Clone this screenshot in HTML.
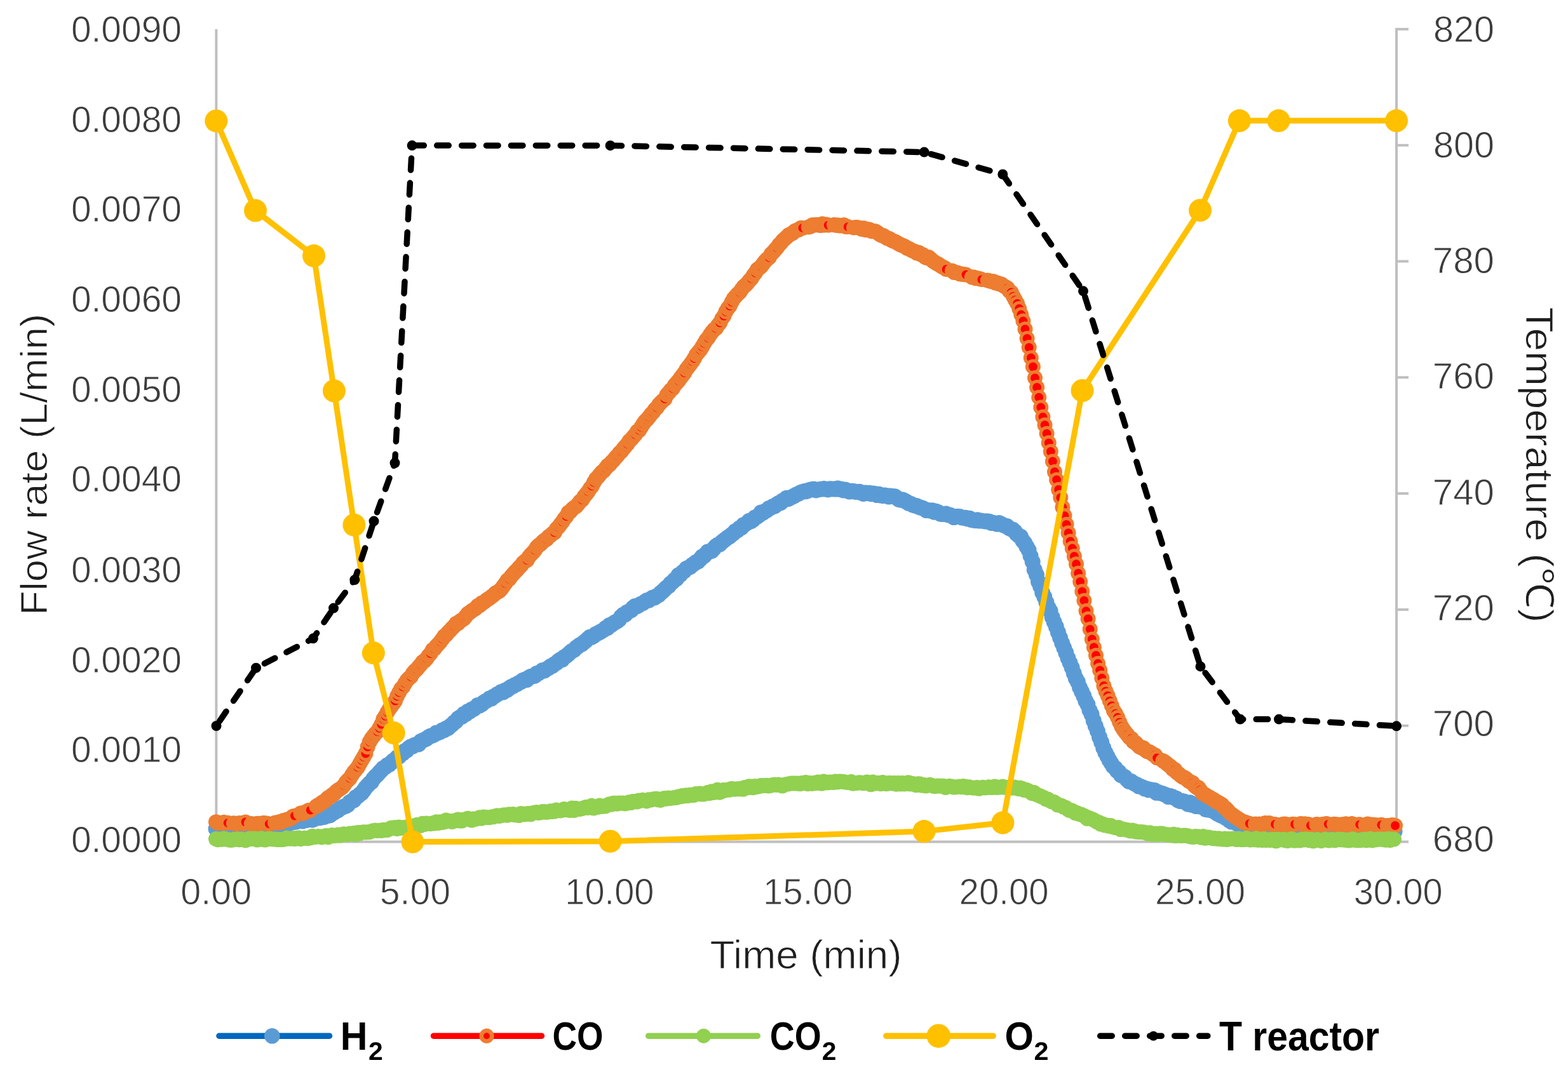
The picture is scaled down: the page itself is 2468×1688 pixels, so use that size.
<!DOCTYPE html><html><head><meta charset="utf-8"><title>Flow rate and temperature vs time</title>
<style>html,body{margin:0;padding:0;background:#fff;}svg{display:block;}text{font-family:"Liberation Sans",Arial,sans-serif;}</style></head><body>
<svg width="2468" height="1688" viewBox="0 0 2468 1688">
<rect width="2468" height="1688" fill="#fff"/>
<g stroke="#BFBFBF" stroke-width="4" fill="none">
<line x1="340.4" y1="46" x2="340.4" y2="1327"/>
<line x1="2198" y1="44" x2="2198" y2="1327"/>
<line x1="338.4" y1="1325.5" x2="2200" y2="1325.5"/>
<line x1="2198" y1="45.9" x2="2217" y2="45.9"/>
<line x1="2198" y1="228.7" x2="2217" y2="228.7"/>
<line x1="2198" y1="411.5" x2="2217" y2="411.5"/>
<line x1="2198" y1="594.3" x2="2217" y2="594.3"/>
<line x1="2198" y1="777.1" x2="2217" y2="777.1"/>
<line x1="2198" y1="959.9" x2="2217" y2="959.9"/>
<line x1="2198" y1="1142.7" x2="2217" y2="1142.7"/>
<line x1="2198" y1="1325.5" x2="2217" y2="1325.5"/>
</g>
<text x="286" y="65.9" font-size="56.7" fill="#3c3c3c" text-anchor="end" textLength="174.1" lengthAdjust="spacingAndGlyphs" stroke="#fff" stroke-width="0.9">0.0090</text>
<text x="286" y="207.6" font-size="56.7" fill="#3c3c3c" text-anchor="end" textLength="174.1" lengthAdjust="spacingAndGlyphs" stroke="#fff" stroke-width="0.9">0.0080</text>
<text x="286" y="349.2" font-size="56.7" fill="#3c3c3c" text-anchor="end" textLength="174.1" lengthAdjust="spacingAndGlyphs" stroke="#fff" stroke-width="0.9">0.0070</text>
<text x="286" y="490.9" font-size="56.7" fill="#3c3c3c" text-anchor="end" textLength="174.1" lengthAdjust="spacingAndGlyphs" stroke="#fff" stroke-width="0.9">0.0060</text>
<text x="286" y="632.6" font-size="56.7" fill="#3c3c3c" text-anchor="end" textLength="174.1" lengthAdjust="spacingAndGlyphs" stroke="#fff" stroke-width="0.9">0.0050</text>
<text x="286" y="774.3" font-size="56.7" fill="#3c3c3c" text-anchor="end" textLength="174.1" lengthAdjust="spacingAndGlyphs" stroke="#fff" stroke-width="0.9">0.0040</text>
<text x="286" y="917.1" font-size="56.7" fill="#3c3c3c" text-anchor="end" textLength="174.1" lengthAdjust="spacingAndGlyphs" stroke="#fff" stroke-width="0.9">0.0030</text>
<text x="286" y="1058.7" font-size="56.7" fill="#3c3c3c" text-anchor="end" textLength="174.1" lengthAdjust="spacingAndGlyphs" stroke="#fff" stroke-width="0.9">0.0020</text>
<text x="286" y="1200.3" font-size="56.7" fill="#3c3c3c" text-anchor="end" textLength="174.1" lengthAdjust="spacingAndGlyphs" stroke="#fff" stroke-width="0.9">0.0010</text>
<text x="286" y="1342" font-size="56.7" fill="#3c3c3c" text-anchor="end" textLength="174.1" lengthAdjust="spacingAndGlyphs" stroke="#fff" stroke-width="0.9">0.0000</text>
<text x="2255.9" y="66" font-size="56.7" fill="#3c3c3c" textLength="96.1" lengthAdjust="spacingAndGlyphs" stroke="#fff" stroke-width="0.9">820</text>
<text x="2255.9" y="247.7" font-size="56.7" fill="#3c3c3c" textLength="96.1" lengthAdjust="spacingAndGlyphs" stroke="#fff" stroke-width="0.9">800</text>
<text x="2254.8" y="430.4" font-size="56.7" fill="#3c3c3c" textLength="97.2" lengthAdjust="spacingAndGlyphs" stroke="#fff" stroke-width="0.9">780</text>
<text x="2254.8" y="612.2" font-size="56.7" fill="#3c3c3c" textLength="97.2" lengthAdjust="spacingAndGlyphs" stroke="#fff" stroke-width="0.9">760</text>
<text x="2254.8" y="795" font-size="56.7" fill="#3c3c3c" textLength="97.2" lengthAdjust="spacingAndGlyphs" stroke="#fff" stroke-width="0.9">740</text>
<text x="2254.8" y="976.7" font-size="56.7" fill="#3c3c3c" textLength="97.2" lengthAdjust="spacingAndGlyphs" stroke="#fff" stroke-width="0.9">720</text>
<text x="2254.8" y="1159.4" font-size="56.7" fill="#3c3c3c" textLength="97.2" lengthAdjust="spacingAndGlyphs" stroke="#fff" stroke-width="0.9">700</text>
<text x="2254.8" y="1341.1" font-size="56.7" fill="#3c3c3c" textLength="97.2" lengthAdjust="spacingAndGlyphs" stroke="#fff" stroke-width="0.9">680</text>
<text x="340.3" y="1423.6" font-size="56.5" fill="#3c3c3c" text-anchor="middle" textLength="112.1" lengthAdjust="spacingAndGlyphs" stroke="#fff" stroke-width="0.9">0.00</text>
<text x="653.4" y="1423.6" font-size="56.5" fill="#3c3c3c" text-anchor="middle" textLength="111.1" lengthAdjust="spacingAndGlyphs" stroke="#fff" stroke-width="0.9">5.00</text>
<text x="959.4" y="1423.6" font-size="56.5" fill="#3c3c3c" text-anchor="middle" textLength="140.1" lengthAdjust="spacingAndGlyphs" stroke="#fff" stroke-width="0.9">10.00</text>
<text x="1271.5" y="1423.6" font-size="56.5" fill="#3c3c3c" text-anchor="middle" textLength="141.2" lengthAdjust="spacingAndGlyphs" stroke="#fff" stroke-width="0.9">15.00</text>
<text x="1580.1" y="1423.6" font-size="56.5" fill="#3c3c3c" text-anchor="middle" textLength="141.1" lengthAdjust="spacingAndGlyphs" stroke="#fff" stroke-width="0.9">20.00</text>
<text x="1889.1" y="1423.6" font-size="56.5" fill="#3c3c3c" text-anchor="middle" textLength="142.2" lengthAdjust="spacingAndGlyphs" stroke="#fff" stroke-width="0.9">25.00</text>
<text x="2200.7" y="1423.6" font-size="56.5" fill="#3c3c3c" text-anchor="middle" textLength="140.1" lengthAdjust="spacingAndGlyphs" stroke="#fff" stroke-width="0.9">30.00</text>
<text x="1268.5" y="1524.5" font-size="63.4" fill="#1e1e1e" text-anchor="middle" textLength="302.1" lengthAdjust="spacingAndGlyphs" stroke="#fff" stroke-width="0.9">Time (min)</text>
<text transform="translate(73.5,731.5) rotate(-90)" font-size="60" fill="#1e1e1e" text-anchor="middle" textLength="475.1" lengthAdjust="spacingAndGlyphs" stroke="#fff" stroke-width="0.9">Flow rate (L/min)</text>
<text transform="translate(2401.6,732) rotate(90)" font-size="61.3" fill="#1e1e1e" text-anchor="middle" textLength="497" lengthAdjust="spacingAndGlyphs" font-family="Liberation Sans, Noto Sans CJK JP, sans-serif" stroke="#fff" stroke-width="0.9">Temperature (℃)</text>
<polyline points="340,1305 343.1,1305.2 346.2,1304.8 349.3,1304.3 352.4,1304.6 355.5,1304.2 358.6,1305 361.7,1306.1 364.8,1304.6 367.9,1304.5 371,1305.4 374.1,1305.3 377.2,1305.1 380.3,1304.3 383.4,1305 386.5,1305.6 389.5,1303.9 392.6,1304.6 395.7,1303.5 398.8,1304 401.9,1303.5 405,1304.6 408.1,1303.6 411.2,1304.5 414.3,1303.9 417.4,1303.2 420.5,1300.8 423.6,1301.7 426.7,1301.5 429.8,1301 432.9,1299.1 436,1299.3 439.1,1298.4 442.2,1298 445.3,1298.9 448.4,1296.8 451.5,1296.8 454.6,1296.9 457.7,1295.1 460.8,1294.8 463.9,1294.3 467,1293.6 470.1,1292 473.2,1292.4 476.3,1292.9 479.4,1290 482.5,1291.5 485.6,1290.4 488.6,1289.4 491.7,1291 494.8,1289.6 497.9,1287.5 501,1288 504.1,1287.8 507.2,1286.5 510.3,1286.5 513.4,1284.9 516.5,1284.3 519.6,1283.6 522.7,1280.4 525.8,1279.5 528.9,1277.2 532,1275.9 535.1,1273 538.2,1271.6 541.3,1270.1 544.4,1269.1 547.5,1267.3 550.6,1263.2 553.7,1261.4 556.8,1260.2 559.9,1255.5 563,1253.9 566.1,1251.1 569.2,1248.8 572.3,1244.8 575.4,1240.4 578.5,1236.9 581.6,1233.6 584.6,1231.5 587.7,1226.4 590.8,1222.9 593.9,1220 597,1216.3 600.1,1213.2 603.2,1209.7 606.3,1207.9 609.4,1205 612.5,1203.8 615.6,1201 618.7,1198 621.8,1196.1 624.9,1192.8 628,1191.4 631.1,1188.1 634.2,1186.1 637.3,1182.4 640.4,1181.5 643.5,1177.9 646.6,1175.7 649.7,1175.2 652.8,1172.9 655.9,1172 659,1171.9 662.1,1167.6 665.2,1165.9 668.3,1164.7 671.4,1163.1 674.5,1160.8 677.6,1159.1 680.7,1158.2 683.7,1156.7 686.8,1154.1 689.9,1153.6 693,1152.4 696.1,1150.1 699.2,1149.6 702.3,1146.9 705.4,1146.3 708.5,1143.4 711.6,1140.9 714.7,1137.8 717.8,1135.6 720.9,1131.5 724,1129.6 727.1,1128.4 730.2,1124.2 733.3,1124.4 736.4,1120.3 739.5,1120.2 742.6,1116.9 745.7,1116.3 748.8,1113.8 751.9,1110.6 755,1110.9 758.1,1109.2 761.2,1106.2 764.3,1104.2 767.4,1102.5 770.5,1100 773.6,1099.9 776.7,1096.9 779.7,1095.5 782.8,1093.2 785.9,1091.7 789,1089.5 792.1,1089.8 795.2,1087 798.3,1086.3 801.4,1083.8 804.5,1081.6 807.6,1080.3 810.7,1078.4 813.8,1077.2 816.9,1075.2 820,1073.7 823.1,1071.2 826.2,1070.1 829.3,1070.5 832.4,1067.1 835.5,1065.3 838.6,1064.9 841.7,1064.2 844.8,1060.4 847.9,1059.8 851,1057.9 854.1,1055.4 857.2,1055.8 860.3,1053.5 863.4,1051.8 866.5,1049.3 869.6,1048.5 872.7,1045.7 875.8,1044 878.8,1041.1 881.9,1038.8 885,1038.6 888.1,1034.7 891.2,1033 894.3,1030.3 897.4,1027.5 900.5,1024.9 903.6,1023.4 906.7,1020.1 909.8,1017.8 912.9,1015.5 916,1014.1 919.1,1011.4 922.2,1008.9 925.3,1006 928.4,1003.3 931.5,1003.2 934.6,1001.3 937.7,998.5 940.8,997.2 943.9,995.6 947,993.8 950.1,992 953.2,989 956.3,988.6 959.4,984.4 962.5,984 965.6,981.5 968.7,979.6 971.8,978 974.8,975.4 977.9,970.9 981,968.1 984.1,967.7 987.2,963.9 990.3,962.5 993.4,961 996.5,956.9 999.6,954.5 1002.7,954.6 1005.8,952.8 1008.9,950.9 1012,949.7 1015.1,947.5 1018.2,945.5 1021.3,945.1 1024.4,943 1027.5,940.9 1030.6,940.9 1033.7,938.6 1036.8,937 1039.9,933.6 1043,931.2 1046.1,928.1 1049.2,925.2 1052.3,922.9 1055.4,918.9 1058.5,916.5 1061.6,913.3 1064.7,911.5 1067.8,905.8 1070.9,904.8 1073.9,901.5 1077,899.1 1080.1,895.6 1083.2,894 1086.3,892.7 1089.4,889.8 1092.5,887.7 1095.6,885.2 1098.7,884.1 1101.8,880.9 1104.9,876.8 1108,875.7 1111.1,872.2 1114.2,868.7 1117.3,868.4 1120.4,867.4 1123.5,863.8 1126.6,860.3 1129.7,858 1132.8,857.2 1135.9,853.9 1139,851.4 1142.1,848.9 1145.2,846.6 1148.3,844.8 1151.4,842.2 1154.5,839.6 1157.6,836.2 1160.7,835.1 1163.8,831.8 1166.9,830.9 1169.9,826.8 1173,825.5 1176.1,823.4 1179.2,820.2 1182.3,820.6 1185.4,818.3 1188.5,814.7 1191.6,813.6 1194.7,811.3 1197.8,807 1200.9,807.3 1204,805.1 1207.1,803.4 1210.2,800.6 1213.3,799.4 1216.4,797.6 1219.5,796.8 1222.6,794.3 1225.7,792.3 1228.8,791.7 1231.9,788.4 1235,786.9 1238.1,784.2 1241.2,785.4 1244.3,783.6 1247.4,782.2 1250.5,780.6 1253.6,778.7 1256.7,777.4 1259.8,775.7 1262.9,774.5 1266,773.6 1269,773.8 1272.1,772.3 1275.2,771.2 1278.3,770.5 1281.4,770.3 1284.5,772 1287.6,771 1290.7,770.5 1293.8,770.1 1296.9,769.4 1300,770.2 1303.1,770.9 1306.2,769.8 1309.3,769.9 1312.4,769.9 1315.5,770.2 1318.6,769.1 1321.7,770.4 1324.8,770.3 1327.9,772.1 1331,771.3 1334.1,772.9 1337.2,774.1 1340.3,773.2 1343.4,773.4 1346.5,774.5 1349.6,774.7 1352.7,774.3 1355.8,775.9 1358.9,777.5 1362,776.1 1365.1,776.5 1368.1,776.3 1371.2,777.7 1374.3,776.9 1377.4,777.4 1380.5,779.6 1383.6,778.2 1386.7,780.1 1389.8,780.7 1392.9,780 1396,780.6 1399.1,782.1 1402.2,781 1405.3,781.4 1408.4,781.7 1411.5,783.9 1414.6,786.3 1417.7,787.2 1420.8,787.1 1423.9,788.6 1427,790.3 1430.1,792.3 1433.2,793.2 1436.3,794.8 1439.4,796 1442.5,796.6 1445.6,797.9 1448.7,799.1 1451.8,800 1454.9,801.5 1458,803.6 1461.1,803.6 1464.1,804.1 1467.2,803.7 1470.3,806.2 1473.4,805.2 1476.5,806.5 1479.6,809 1482.7,809.6 1485.8,809.6 1488.9,809 1492,810.7 1495.1,811.1 1498.2,812.7 1501.3,814.6 1504.4,813.5 1507.5,813.3 1510.6,813.6 1513.7,815 1516.8,815.5 1519.9,815.2 1523,816.8 1526.1,816.3 1529.2,818.6 1532.3,819.1 1535.4,819.6 1538.5,818.8 1541.6,820.1 1544.7,820.1 1547.8,820.4 1550.9,821 1554,820.8 1557.1,821.2 1560.2,823.5 1563.2,823.2 1566.3,824.1 1569.4,825.2 1572.5,823.6 1575.6,825.1 1578.7,826.7 1581.8,827.8 1584.9,828.6 1588,831.5 1591.1,832.9 1594.2,834.1 1597.3,836.9 1600.4,841 1603.5,843.6 1606.6,845 1609.7,851.3 1612.8,855 1615.9,860.7 1619,866.1 1622.1,875.5 1625.2,884.6 1628.3,897.2 1631.4,905 1634.5,916.1 1637.6,923.5 1640.7,933 1643.8,939.8 1646.9,948.3 1650,956.5 1653.1,962.1 1656.2,971.9 1659.2,979.6 1662.3,986.9 1665.4,995.7 1668.5,1004.1 1671.6,1012.5 1674.7,1020.1 1677.8,1027.9 1680.9,1036.3 1684,1043.6 1687.1,1051.2 1690.2,1060 1693.3,1068.3 1696.4,1073.9 1699.5,1082.5 1702.6,1089.2 1705.7,1095.7 1708.8,1103.7 1711.9,1109.4 1715,1118.4 1718.1,1124.9 1721.2,1134.7 1724.3,1143.2 1727.4,1151.3 1730.5,1160.7 1733.6,1168.7 1736.7,1177.7 1739.8,1184.9 1742.9,1190.8 1746,1196.9 1749.1,1201.8 1752.2,1206.9 1755.3,1209.4 1758.3,1213.8 1761.4,1215.8 1764.5,1220.7 1767.6,1222 1770.7,1223.8 1773.8,1227.4 1776.9,1230.4 1780,1230.2 1783.1,1232.4 1786.2,1234.3 1789.3,1235.5 1792.4,1238.1 1795.5,1238.5 1798.6,1239.8 1801.7,1242 1804.8,1241.9 1807.9,1243.8 1811,1243.6 1814.1,1244.2 1817.2,1244.6 1820.3,1248.3 1823.4,1247.4 1826.5,1248.8 1829.6,1249.6 1832.7,1250.8 1835.8,1251.9 1838.9,1254.6 1842,1253.5 1845.1,1254.4 1848.2,1256.2 1851.3,1257.2 1854.3,1260.2 1857.4,1261.5 1860.5,1261.3 1863.6,1262 1866.7,1263.9 1869.8,1266.2 1872.9,1263.8 1876,1267.3 1879.1,1266.9 1882.2,1269.4 1885.3,1268.5 1888.4,1270 1891.5,1270 1894.6,1271.4 1897.7,1274.3 1900.8,1275 1903.9,1275.2 1907,1276.2 1910.1,1276.8 1913.2,1279.5 1916.3,1281.4 1919.4,1282.9 1922.5,1284.5 1925.6,1285.3 1928.7,1287.7 1931.8,1289.2 1934.9,1291.9 1938,1293.9 1941.1,1293.9 1944.2,1295 1947.3,1297.1 1950.4,1298.2 1953.4,1299.7 1956.5,1302.1 1959.6,1303.2 1962.7,1306.4 1965.8,1307.4 1968.9,1309 1972,1309.6 1975.1,1309.4 1978.2,1309.2 1981.3,1309.8 1984.4,1309.6 1987.5,1310.2 1990.6,1310 1993.7,1308.9 1996.8,1310.1 1999.9,1308.9 2003,1309.5 2006.1,1309.8 2009.2,1308.3 2012.3,1310.1 2015.4,1310.1 2018.5,1309.9 2021.6,1309.7 2024.7,1309.7 2027.8,1309.2 2030.9,1309.8 2034,1309.6 2037.1,1310.1 2040.2,1309 2043.3,1310.2 2046.4,1310.1 2049.4,1309.9 2052.5,1309.6 2055.6,1310.4 2058.7,1308.7 2061.8,1310.4 2064.9,1310.2 2068,1310.2 2071.1,1310.3 2074.2,1309.5 2077.3,1309.8 2080.4,1310.5 2083.5,1310.3 2086.6,1310.2 2089.7,1308.8 2092.8,1310.4 2095.9,1310.9 2099,1310.8 2102.1,1310.2 2105.2,1308.8 2108.3,1310.8 2111.4,1309.9 2114.5,1308 2117.6,1310.3 2120.7,1308.8 2123.8,1309 2126.9,1309.5 2130,1311 2133.1,1309.7 2136.2,1310.2 2139.3,1311.4 2142.4,1311.3 2145.5,1309.9 2148.5,1309.8 2151.6,1309 2154.7,1309.4 2157.8,1310.3 2160.9,1310.3 2164,1310.1 2167.1,1310.8 2170.2,1309.4 2173.3,1310 2176.4,1310.6 2179.5,1310.5 2182.6,1310.9 2185.7,1310.3 2188.8,1309.8 2191.9,1310.3 2195,1309.2" fill="none" stroke="#0070C0" stroke-width="4"/>
<path d="M340 1305h0M343.1 1305.2h0M346.2 1304.8h0M349.3 1304.3h0M352.4 1304.6h0M355.5 1304.2h0M358.6 1305h0M361.7 1306.1h0M364.8 1304.6h0M367.9 1304.5h0M371 1305.4h0M374.1 1305.3h0M377.2 1305.1h0M380.3 1304.3h0M383.4 1305h0M386.5 1305.6h0M389.5 1303.9h0M392.6 1304.6h0M395.7 1303.5h0M398.8 1304h0M401.9 1303.5h0M405 1304.6h0M408.1 1303.6h0M411.2 1304.5h0M414.3 1303.9h0M417.4 1303.2h0M420.5 1300.8h0M423.6 1301.7h0M426.7 1301.5h0M429.8 1301h0M432.9 1299.1h0M436 1299.3h0M439.1 1298.4h0M442.2 1298h0M445.3 1298.9h0M448.4 1296.8h0M451.5 1296.8h0M454.6 1296.9h0M457.7 1295.1h0M460.8 1294.8h0M463.9 1294.3h0M467 1293.6h0M470.1 1292h0M473.2 1292.4h0M476.3 1292.9h0M479.4 1290h0M482.5 1291.5h0M485.6 1290.4h0M488.6 1289.4h0M491.7 1291h0M494.8 1289.6h0M497.9 1287.5h0M501 1288h0M504.1 1287.8h0M507.2 1286.5h0M510.3 1286.5h0M513.4 1284.9h0M516.5 1284.3h0M519.6 1283.6h0M522.7 1280.4h0M525.8 1279.5h0M528.9 1277.2h0M532 1275.9h0M535.1 1273h0M538.2 1271.6h0M541.3 1270.1h0M544.4 1269.1h0M547.5 1267.3h0M550.6 1263.2h0M553.7 1261.4h0M556.8 1260.2h0M559.9 1255.5h0M563 1253.9h0M566.1 1251.1h0M569.2 1248.8h0M572.3 1244.8h0M575.4 1240.4h0M578.5 1236.9h0M581.6 1233.6h0M584.6 1231.5h0M587.7 1226.4h0M590.8 1222.9h0M593.9 1220h0M597 1216.3h0M600.1 1213.2h0M603.2 1209.7h0M606.3 1207.9h0M609.4 1205h0M612.5 1203.8h0M615.6 1201h0M618.7 1198h0M621.8 1196.1h0M624.9 1192.8h0M628 1191.4h0M631.1 1188.1h0M634.2 1186.1h0M637.3 1182.4h0M640.4 1181.5h0M643.5 1177.9h0M646.6 1175.7h0M649.7 1175.2h0M652.8 1172.9h0M655.9 1172h0M659 1171.9h0M662.1 1167.6h0M665.2 1165.9h0M668.3 1164.7h0M671.4 1163.1h0M674.5 1160.8h0M677.6 1159.1h0M680.7 1158.2h0M683.7 1156.7h0M686.8 1154.1h0M689.9 1153.6h0M693 1152.4h0M696.1 1150.1h0M699.2 1149.6h0M702.3 1146.9h0M705.4 1146.3h0M708.5 1143.4h0M711.6 1140.9h0M714.7 1137.8h0M717.8 1135.6h0M720.9 1131.5h0M724 1129.6h0M727.1 1128.4h0M730.2 1124.2h0M733.3 1124.4h0M736.4 1120.3h0M739.5 1120.2h0M742.6 1116.9h0M745.7 1116.3h0M748.8 1113.8h0M751.9 1110.6h0M755 1110.9h0M758.1 1109.2h0M761.2 1106.2h0M764.3 1104.2h0M767.4 1102.5h0M770.5 1100h0M773.6 1099.9h0M776.7 1096.9h0M779.7 1095.5h0M782.8 1093.2h0M785.9 1091.7h0M789 1089.5h0M792.1 1089.8h0M795.2 1087h0M798.3 1086.3h0M801.4 1083.8h0M804.5 1081.6h0M807.6 1080.3h0M810.7 1078.4h0M813.8 1077.2h0M816.9 1075.2h0M820 1073.7h0M823.1 1071.2h0M826.2 1070.1h0M829.3 1070.5h0M832.4 1067.1h0M835.5 1065.3h0M838.6 1064.9h0M841.7 1064.2h0M844.8 1060.4h0M847.9 1059.8h0M851 1057.9h0M854.1 1055.4h0M857.2 1055.8h0M860.3 1053.5h0M863.4 1051.8h0M866.5 1049.3h0M869.6 1048.5h0M872.7 1045.7h0M875.8 1044h0M878.8 1041.1h0M881.9 1038.8h0M885 1038.6h0M888.1 1034.7h0M891.2 1033h0M894.3 1030.3h0M897.4 1027.5h0M900.5 1024.9h0M903.6 1023.4h0M906.7 1020.1h0M909.8 1017.8h0M912.9 1015.5h0M916 1014.1h0M919.1 1011.4h0M922.2 1008.9h0M925.3 1006h0M928.4 1003.3h0M931.5 1003.2h0M934.6 1001.3h0M937.7 998.5h0M940.8 997.2h0M943.9 995.6h0M947 993.8h0M950.1 992h0M953.2 989h0M956.3 988.6h0M959.4 984.4h0M962.5 984h0M965.6 981.5h0M968.7 979.6h0M971.8 978h0M974.8 975.4h0M977.9 970.9h0M981 968.1h0M984.1 967.7h0M987.2 963.9h0M990.3 962.5h0M993.4 961h0M996.5 956.9h0M999.6 954.5h0M1002.7 954.6h0M1005.8 952.8h0M1008.9 950.9h0M1012 949.7h0M1015.1 947.5h0M1018.2 945.5h0M1021.3 945.1h0M1024.4 943h0M1027.5 940.9h0M1030.6 940.9h0M1033.7 938.6h0M1036.8 937h0M1039.9 933.6h0M1043 931.2h0M1046.1 928.1h0M1049.2 925.2h0M1052.3 922.9h0M1055.4 918.9h0M1058.5 916.5h0M1061.6 913.3h0M1064.7 911.5h0M1067.8 905.8h0M1070.9 904.8h0M1073.9 901.5h0M1077 899.1h0M1080.1 895.6h0M1083.2 894h0M1086.3 892.7h0M1089.4 889.8h0M1092.5 887.7h0M1095.6 885.2h0M1098.7 884.1h0M1101.8 880.9h0M1104.9 876.8h0M1108 875.7h0M1111.1 872.2h0M1114.2 868.7h0M1117.3 868.4h0M1120.4 867.4h0M1123.5 863.8h0M1126.6 860.3h0M1129.7 858h0M1132.8 857.2h0M1135.9 853.9h0M1139 851.4h0M1142.1 848.9h0M1145.2 846.6h0M1148.3 844.8h0M1151.4 842.2h0M1154.5 839.6h0M1157.6 836.2h0M1160.7 835.1h0M1163.8 831.8h0M1166.9 830.9h0M1169.9 826.8h0M1173 825.5h0M1176.1 823.4h0M1179.2 820.2h0M1182.3 820.6h0M1185.4 818.3h0M1188.5 814.7h0M1191.6 813.6h0M1194.7 811.3h0M1197.8 807h0M1200.9 807.3h0M1204 805.1h0M1207.1 803.4h0M1210.2 800.6h0M1213.3 799.4h0M1216.4 797.6h0M1219.5 796.8h0M1222.6 794.3h0M1225.7 792.3h0M1228.8 791.7h0M1231.9 788.4h0M1235 786.9h0M1238.1 784.2h0M1241.2 785.4h0M1244.3 783.6h0M1247.4 782.2h0M1250.5 780.6h0M1253.6 778.7h0M1256.7 777.4h0M1259.8 775.7h0M1262.9 774.5h0M1266 773.6h0M1269 773.8h0M1272.1 772.3h0M1275.2 771.2h0M1278.3 770.5h0M1281.4 770.3h0M1284.5 772h0M1287.6 771h0M1290.7 770.5h0M1293.8 770.1h0M1296.9 769.4h0M1300 770.2h0M1303.1 770.9h0M1306.2 769.8h0M1309.3 769.9h0M1312.4 769.9h0M1315.5 770.2h0M1318.6 769.1h0M1321.7 770.4h0M1324.8 770.3h0M1327.9 772.1h0M1331 771.3h0M1334.1 772.9h0M1337.2 774.1h0M1340.3 773.2h0M1343.4 773.4h0M1346.5 774.5h0M1349.6 774.7h0M1352.7 774.3h0M1355.8 775.9h0M1358.9 777.5h0M1362 776.1h0M1365.1 776.5h0M1368.1 776.3h0M1371.2 777.7h0M1374.3 776.9h0M1377.4 777.4h0M1380.5 779.6h0M1383.6 778.2h0M1386.7 780.1h0M1389.8 780.7h0M1392.9 780h0M1396 780.6h0M1399.1 782.1h0M1402.2 781h0M1405.3 781.4h0M1408.4 781.7h0M1411.5 783.9h0M1414.6 786.3h0M1417.7 787.2h0M1420.8 787.1h0M1423.9 788.6h0M1427 790.3h0M1430.1 792.3h0M1433.2 793.2h0M1436.3 794.8h0M1439.4 796h0M1442.5 796.6h0M1445.6 797.9h0M1448.7 799.1h0M1451.8 800h0M1454.9 801.5h0M1458 803.6h0M1461.1 803.6h0M1464.1 804.1h0M1467.2 803.7h0M1470.3 806.2h0M1473.4 805.2h0M1476.5 806.5h0M1479.6 809h0M1482.7 809.6h0M1485.8 809.6h0M1488.9 809h0M1492 810.7h0M1495.1 811.1h0M1498.2 812.7h0M1501.3 814.6h0M1504.4 813.5h0M1507.5 813.3h0M1510.6 813.6h0M1513.7 815h0M1516.8 815.5h0M1519.9 815.2h0M1523 816.8h0M1526.1 816.3h0M1529.2 818.6h0M1532.3 819.1h0M1535.4 819.6h0M1538.5 818.8h0M1541.6 820.1h0M1544.7 820.1h0M1547.8 820.4h0M1550.9 821h0M1554 820.8h0M1557.1 821.2h0M1560.2 823.5h0M1563.2 823.2h0M1566.3 824.1h0M1569.4 825.2h0M1572.5 823.6h0M1575.6 825.1h0M1578.7 826.7h0M1581.8 827.8h0M1584.9 828.6h0M1588 831.5h0M1591.1 832.9h0M1594.2 834.1h0M1597.3 836.9h0M1600.4 841h0M1603.5 843.6h0M1606.6 845h0M1609.7 851.3h0M1612.8 855h0M1615.9 860.7h0M1619 866.1h0M1622.1 875.5h0M1625.2 884.6h0M1628.3 897.2h0M1631.4 905h0M1634.5 916.1h0M1637.6 923.5h0M1640.7 933h0M1643.8 939.8h0M1646.9 948.3h0M1650 956.5h0M1653.1 962.1h0M1656.2 971.9h0M1659.2 979.6h0M1662.3 986.9h0M1665.4 995.7h0M1668.5 1004.1h0M1671.6 1012.5h0M1674.7 1020.1h0M1677.8 1027.9h0M1680.9 1036.3h0M1684 1043.6h0M1687.1 1051.2h0M1690.2 1060h0M1693.3 1068.3h0M1696.4 1073.9h0M1699.5 1082.5h0M1702.6 1089.2h0M1705.7 1095.7h0M1708.8 1103.7h0M1711.9 1109.4h0M1715 1118.4h0M1718.1 1124.9h0M1721.2 1134.7h0M1724.3 1143.2h0M1727.4 1151.3h0M1730.5 1160.7h0M1733.6 1168.7h0M1736.7 1177.7h0M1739.8 1184.9h0M1742.9 1190.8h0M1746 1196.9h0M1749.1 1201.8h0M1752.2 1206.9h0M1755.3 1209.4h0M1758.3 1213.8h0M1761.4 1215.8h0M1764.5 1220.7h0M1767.6 1222h0M1770.7 1223.8h0M1773.8 1227.4h0M1776.9 1230.4h0M1780 1230.2h0M1783.1 1232.4h0M1786.2 1234.3h0M1789.3 1235.5h0M1792.4 1238.1h0M1795.5 1238.5h0M1798.6 1239.8h0M1801.7 1242h0M1804.8 1241.9h0M1807.9 1243.8h0M1811 1243.6h0M1814.1 1244.2h0M1817.2 1244.6h0M1820.3 1248.3h0M1823.4 1247.4h0M1826.5 1248.8h0M1829.6 1249.6h0M1832.7 1250.8h0M1835.8 1251.9h0M1838.9 1254.6h0M1842 1253.5h0M1845.1 1254.4h0M1848.2 1256.2h0M1851.3 1257.2h0M1854.3 1260.2h0M1857.4 1261.5h0M1860.5 1261.3h0M1863.6 1262h0M1866.7 1263.9h0M1869.8 1266.2h0M1872.9 1263.8h0M1876 1267.3h0M1879.1 1266.9h0M1882.2 1269.4h0M1885.3 1268.5h0M1888.4 1270h0M1891.5 1270h0M1894.6 1271.4h0M1897.7 1274.3h0M1900.8 1275h0M1903.9 1275.2h0M1907 1276.2h0M1910.1 1276.8h0M1913.2 1279.5h0M1916.3 1281.4h0M1919.4 1282.9h0M1922.5 1284.5h0M1925.6 1285.3h0M1928.7 1287.7h0M1931.8 1289.2h0M1934.9 1291.9h0M1938 1293.9h0M1941.1 1293.9h0M1944.2 1295h0M1947.3 1297.1h0M1950.4 1298.2h0M1953.4 1299.7h0M1956.5 1302.1h0M1959.6 1303.2h0M1962.7 1306.4h0M1965.8 1307.4h0M1968.9 1309h0M1972 1309.6h0M1975.1 1309.4h0M1978.2 1309.2h0M1981.3 1309.8h0M1984.4 1309.6h0M1987.5 1310.2h0M1990.6 1310h0M1993.7 1308.9h0M1996.8 1310.1h0M1999.9 1308.9h0M2003 1309.5h0M2006.1 1309.8h0M2009.2 1308.3h0M2012.3 1310.1h0M2015.4 1310.1h0M2018.5 1309.9h0M2021.6 1309.7h0M2024.7 1309.7h0M2027.8 1309.2h0M2030.9 1309.8h0M2034 1309.6h0M2037.1 1310.1h0M2040.2 1309h0M2043.3 1310.2h0M2046.4 1310.1h0M2049.4 1309.9h0M2052.5 1309.6h0M2055.6 1310.4h0M2058.7 1308.7h0M2061.8 1310.4h0M2064.9 1310.2h0M2068 1310.2h0M2071.1 1310.3h0M2074.2 1309.5h0M2077.3 1309.8h0M2080.4 1310.5h0M2083.5 1310.3h0M2086.6 1310.2h0M2089.7 1308.8h0M2092.8 1310.4h0M2095.9 1310.9h0M2099 1310.8h0M2102.1 1310.2h0M2105.2 1308.8h0M2108.3 1310.8h0M2111.4 1309.9h0M2114.5 1308h0M2117.6 1310.3h0M2120.7 1308.8h0M2123.8 1309h0M2126.9 1309.5h0M2130 1311h0M2133.1 1309.7h0M2136.2 1310.2h0M2139.3 1311.4h0M2142.4 1311.3h0M2145.5 1309.9h0M2148.5 1309.8h0M2151.6 1309h0M2154.7 1309.4h0M2157.8 1310.3h0M2160.9 1310.3h0M2164 1310.1h0M2167.1 1310.8h0M2170.2 1309.4h0M2173.3 1310h0M2176.4 1310.6h0M2179.5 1310.5h0M2182.6 1310.9h0M2185.7 1310.3h0M2188.8 1309.8h0M2191.9 1310.3h0M2195 1309.2h0" stroke="#5B9BD5" stroke-width="25" stroke-linecap="round" fill="none"/>
<polyline points="340,1294.3 343.1,1296.1 346.2,1295.7 349.3,1296.2 352.4,1294.8 355.5,1295.9 358.6,1295.8 367.9,1296.2 371,1297.2 374.1,1296.8 377.2,1296.1 380.3,1296.5 383.4,1297.1 386.5,1294.5 395.8,1297.1 398.9,1297.9 402,1297.5 405.1,1296.8 408.2,1296.8 411.3,1297.1 414.4,1296 417.5,1296.3 420.6,1296.8 423.7,1297.4 433,1295.4 436.1,1295.8 439.2,1294.2 442.3,1294.7 445.3,1292.2 448.4,1291.8 451.5,1290.6 454.6,1289.9 457.7,1288.7 460.8,1285.5 463.9,1284.7 473.2,1280.5 476.3,1281.1 479.4,1279.3 482.5,1278 485.6,1276 488.7,1275.7 498,1269.4 501.1,1267.5 504.2,1266.1 507.3,1263.2 510.4,1262 513.5,1259.3 516.6,1256.1 519.7,1254.5 522.8,1251.7 525.9,1250.2 529,1246.4 532.1,1243.9 535.2,1242.3 538.3,1240.1 541.4,1236.7 544.5,1231.9 547.6,1228.5 550.7,1225.7 553.8,1220.5 556.9,1215.7 560,1212.2 563.1,1208.2 566.2,1202.8 569.3,1197.3 572.4,1191.9 575.5,1186.5 578.6,1176.2 581.7,1168.2 584.8,1162.9 587.9,1159.1 591,1154.9 594.1,1152 597.2,1146.6 600.3,1140.6 603.4,1132.3 606.5,1127.5 609.6,1121.5 612.7,1116.4 615.8,1112.3 618.9,1107.9 622,1103.7 625.1,1096.3 628.2,1090.3 631.3,1084.6 634.4,1081.6 637.5,1076 640.6,1071.2 643.7,1068.1 646.8,1065.5 649.8,1060.2 652.9,1056.4 656,1054 659.1,1049.9 662.2,1046.5 665.3,1042.2 668.4,1040.5 671.5,1036.9 674.6,1032.5 677.7,1029 680.8,1023.3 683.9,1021.6 687,1017.3 690.1,1014.1 693.2,1010.6 696.3,1006.2 699.4,1001.6 702.5,999.6 705.6,995.4 708.7,992.4 711.8,989 714.9,986.1 718,981.7 721.1,981.5 724.2,978.1 727.3,976 730.4,974 733.5,970 736.6,966.1 739.7,964.2 742.8,961.6 745.9,959.7 749,957.7 752.1,953.8 755.2,953.2 758.3,949.4 761.4,948.4 764.5,945.9 767.6,943.6 770.7,941.7 773.8,939.3 776.9,937 780,933.8 783.1,932.2 786.2,930.4 789.3,926.9 792.4,922.7 795.5,918.5 798.6,913.7 801.7,911.8 804.8,907.2 807.9,903.8 811,900.3 814.1,897.2 817.2,893.5 820.3,890.4 823.4,886.3 826.5,883.4 829.6,882 832.7,876.8 835.8,873 838.9,869.9 842,866.3 845.1,861.4 848.2,858.6 851.3,856.4 854.4,853 857.4,850.4 860.5,849 863.6,844.9 866.7,843 869.8,839.9 872.9,838.5 876,832.7 879.1,829.8 882.2,825.4 885.3,821.6 888.4,816.8 891.5,813 894.6,806.9 897.7,805.4 900.8,801.8 903.9,798.9 907,797.2 910.1,793.4 913.2,789.4 916.3,787.1 919.4,782.1 922.5,778.2 925.6,774.2 928.7,769.3 931.8,765.4 934.9,759.5 938,754.2 941.1,750.9 944.2,747.2 947.3,743.5 950.4,741.3 953.5,737.2 956.6,732.9 959.7,731.6 962.8,727.6 965.9,724.4 969,720.6 972.1,717.3 975.2,713.3 978.3,710.5 981.4,706.3 984.5,702.7 987.6,699.1 990.7,694.2 993.8,691.5 996.9,687.8 1000,684.3 1003.1,679.3 1006.2,677.6 1009.3,672.5 1012.4,667.6 1015.5,663.2 1018.6,660.3 1021.7,656.6 1024.8,652.3 1027.9,649.1 1031,644.7 1034.1,641.8 1037.2,637.1 1040.3,633.8 1043.4,630.8 1046.5,628.2 1049.6,621.7 1052.7,618.3 1055.8,614.2 1058.9,611.7 1061.9,606.4 1065,603.1 1068.1,599.6 1071.2,594.9 1074.3,590.9 1077.4,587 1080.5,581.5 1083.6,577.4 1086.7,573.5 1089.8,569.2 1092.9,564.3 1096,558.4 1099.1,554.7 1102.2,550.9 1105.3,545.9 1108.4,540.7 1111.5,535.5 1114.6,532.1 1117.7,527 1120.8,522.7 1123.9,519.1 1127,517 1130.1,512 1133.2,508.3 1136.3,502 1139.4,497.6 1142.5,490.8 1145.6,485.4 1148.7,481.8 1151.8,475.5 1154.9,470.1 1158,466.5 1161.1,463.1 1164.2,460.3 1167.3,455.7 1170.4,451.4 1173.5,449.1 1176.6,445.7 1179.7,441.8 1182.8,438.5 1185.9,433.4 1189,429.6 1192.1,424.2 1195.2,421.9 1198.3,419.3 1201.4,414.9 1204.5,411.1 1207.6,407.7 1210.7,405.5 1213.8,400 1216.9,396.9 1220,393.6 1223.1,390 1226.2,385.4 1229.3,382.4 1232.4,378.6 1235.5,375.8 1238.6,372.9 1241.7,369.7 1244.8,368.4 1247.9,367 1251,363.7 1254.1,362.5 1257.2,361.7 1260.3,359.1 1263.4,358.9 1272.6,357.5 1275.7,356.5 1278.8,354.2 1281.9,354.6 1285,354 1288.1,353.9 1291.2,354.9 1294.3,352.6 1297.4,354.4 1300.5,353.5 1303.6,354.6 1312.9,354.1 1316,354.8 1319.1,354.6 1322.2,355.4 1325.3,355 1328.4,354.2 1331.5,356.9 1334.6,357.1 1343.9,358.6 1347,357.9 1350.1,358.2 1353.2,359.1 1356.3,360.7 1359.4,359.3 1362.5,361.9 1365.6,361.2 1368.7,361.5 1371.8,364.1 1374.9,364 1378,364.3 1381.1,366.3 1384.2,368.8 1387.3,370.6 1390.4,371 1393.5,373.3 1396.6,375.2 1399.7,375.8 1402.8,378.1 1405.9,379.4 1409,380.6 1412.1,382.3 1415.2,384.3 1418.3,385.8 1421.4,386.8 1424.5,388.3 1427.6,390.8 1430.7,391.5 1433.8,393.4 1436.9,395 1440,395.9 1443.1,398.6 1446.2,397.7 1449.3,400.4 1452.4,401.1 1455.5,404.4 1458.6,406 1461.7,405.1 1464.8,407.7 1467.9,410.8 1471,412.8 1474.1,414.7 1477.1,416 1480.2,418.3 1483.3,420.2 1486.4,421.4 1489.5,423.9 1498.8,426.5 1501.9,429.1 1505,429.3 1508.1,429.7 1511.2,431.5 1514.3,431.4 1517.4,432.2 1520.5,432.5 1529.8,436.6 1532.9,436.5 1536,438.2 1539.1,438.2 1542.2,438.9 1545.3,440.1 1554.6,441.5 1557.7,442.3 1560.8,443.2 1563.9,443.3 1567,445.6 1570.1,445.5 1573.2,447.3 1576.3,447.5 1579.4,449.9 1582.5,451.8 1585.6,453.6 1588.7,458.2 1591.8,460.5 1594.9,466.7 1598,472.4 1601.1,478 1604.2,485.9 1607.3,495.4 1610.4,505.4 1613.5,518.2 1616.6,532.9 1619.7,547.1 1622.8,563.4 1625.9,577.5 1629,595.1 1632.1,609.9 1635.2,625.7 1638.3,641.5 1641.4,656.6 1644.5,669.2 1647.6,682.7 1650.7,697.3 1653.8,711 1656.9,726.5 1660,743 1663.1,755.4 1666.2,771 1669.3,783.6 1672.4,798.8 1675.5,812.1 1678.6,825.8 1681.6,839.2 1684.7,852.4 1687.8,863.4 1690.9,876 1694,888.2 1697.1,902.7 1700.2,915.9 1703.3,931.3 1706.4,945.7 1709.5,962.1 1712.6,974.4 1715.7,990.8 1718.8,1006.4 1721.9,1019.2 1725,1031.9 1728.1,1044.7 1731.2,1055.5 1734.3,1067.7 1737.4,1079.9 1740.5,1088.4 1743.6,1095.4 1746.7,1103.6 1749.8,1111.3 1752.9,1119 1756,1123.7 1759.1,1129.7 1762.2,1137.3 1765.3,1143.9 1768.4,1149.1 1771.5,1153.3 1774.6,1157 1777.7,1161.2 1780.8,1163.1 1783.9,1168 1787,1169.3 1790.1,1172.4 1793.2,1175.7 1796.3,1177.2 1799.4,1177.5 1802.5,1181 1805.6,1183.2 1808.7,1183.7 1811.8,1185.5 1814.9,1188.1 1818,1189 1821.1,1193.3 1830.4,1197.9 1833.5,1200 1836.6,1202.5 1839.7,1204.9 1842.8,1207.3 1845.9,1211.2 1849,1211.8 1852.1,1216.3 1855.2,1218.4 1858.3,1221.3 1861.4,1223.5 1864.5,1224.6 1867.6,1226.7 1870.7,1229.7 1873.8,1231.3 1876.9,1232.6 1880,1236.9 1883.1,1239.8 1886.2,1239.9 1889.2,1244.2 1892.3,1248.9 1895.4,1250.4 1898.5,1252.4 1901.6,1254.2 1904.7,1255.9 1907.8,1257.9 1910.9,1259.5 1914,1262.2 1917.1,1263.3 1920.2,1265.3 1923.3,1267.1 1926.4,1270.7 1929.5,1272.9 1932.6,1276.3 1935.7,1280 1938.8,1282.2 1941.9,1284.6 1945,1286.7 1948.1,1288.8 1951.2,1290.8 1954.3,1292.6 1957.4,1295 1960.5,1294.7 1963.6,1297.2 1966.7,1296.8 1976,1297.4 1979.1,1298.1 1982.2,1297.4 1985.3,1298.8 1988.4,1297.2 1991.5,1295.9 1994.6,1297 1997.7,1295.9 2000.8,1297.4 2003.9,1298.2 2007,1297.9 2016.3,1298.8 2019.4,1297.7 2022.5,1297.5 2025.6,1298.3 2028.7,1299.4 2031.8,1298.6 2034.9,1297.7 2038,1297.9 2047.3,1297 2050.4,1297.9 2053.5,1297.2 2056.6,1297.9 2059.7,1298 2062.8,1299.8 2072.1,1298 2075.2,1298.5 2078.3,1299 2081.4,1297.9 2084.5,1297.7 2087.6,1297.1 2090.7,1297.7 2099.9,1297.7 2103,1298.3 2106.1,1298.6 2109.2,1299 2112.3,1298.2 2115.4,1298.5 2118.5,1297.3 2121.6,1297.9 2124.7,1300 2127.8,1297.1 2130.9,1298.6 2134,1299 2137.1,1298.6 2140.2,1298.3 2149.5,1298.9 2152.6,1297.6 2155.7,1298.9 2158.8,1298.4 2161.9,1298.7 2165,1299.3 2168.1,1299.6 2171.2,1299.9 2174.3,1298.8 2183.6,1300.1 2186.7,1300.4 2189.8,1299.2 2192.9,1299.2 2196,1300" fill="none" stroke="#FF0000" stroke-width="4"/>
<g fill="#FF0000" stroke="#ED7D31" stroke-width="5.1">
<circle cx="340" cy="1294.3" r="9.45"/><circle cx="343.1" cy="1296.1" r="9.45"/><circle cx="346.2" cy="1295.7" r="9.45"/><circle cx="349.3" cy="1296.2" r="9.45"/><circle cx="352.4" cy="1294.8" r="9.45"/><circle cx="355.5" cy="1295.9" r="9.45"/><circle cx="358.6" cy="1295.8" r="9.45"/><circle cx="367.9" cy="1296.2" r="9.45"/><circle cx="371" cy="1297.2" r="9.45"/><circle cx="374.1" cy="1296.8" r="9.45"/><circle cx="377.2" cy="1296.1" r="9.45"/><circle cx="380.3" cy="1296.5" r="9.45"/><circle cx="383.4" cy="1297.1" r="9.45"/><circle cx="386.5" cy="1294.5" r="9.45"/><circle cx="395.8" cy="1297.1" r="9.45"/><circle cx="398.9" cy="1297.9" r="9.45"/><circle cx="402" cy="1297.5" r="9.45"/><circle cx="405.1" cy="1296.8" r="9.45"/><circle cx="408.2" cy="1296.8" r="9.45"/><circle cx="411.3" cy="1297.1" r="9.45"/><circle cx="414.4" cy="1296" r="9.45"/><circle cx="417.5" cy="1296.3" r="9.45"/><circle cx="420.6" cy="1296.8" r="9.45"/><circle cx="423.7" cy="1297.4" r="9.45"/><circle cx="433" cy="1295.4" r="9.45"/><circle cx="436.1" cy="1295.8" r="9.45"/><circle cx="439.2" cy="1294.2" r="9.45"/><circle cx="442.3" cy="1294.7" r="9.45"/><circle cx="445.3" cy="1292.2" r="9.45"/><circle cx="448.4" cy="1291.8" r="9.45"/><circle cx="451.5" cy="1290.6" r="9.45"/><circle cx="454.6" cy="1289.9" r="9.45"/><circle cx="457.7" cy="1288.7" r="9.45"/><circle cx="460.8" cy="1285.5" r="9.45"/><circle cx="463.9" cy="1284.7" r="9.45"/><circle cx="473.2" cy="1280.5" r="9.45"/><circle cx="476.3" cy="1281.1" r="9.45"/><circle cx="479.4" cy="1279.3" r="9.45"/><circle cx="482.5" cy="1278" r="9.45"/><circle cx="485.6" cy="1276" r="9.45"/><circle cx="488.7" cy="1275.7" r="9.45"/><circle cx="498" cy="1269.4" r="9.45"/><circle cx="501.1" cy="1267.5" r="9.45"/><circle cx="504.2" cy="1266.1" r="9.45"/><circle cx="507.3" cy="1263.2" r="9.45"/><circle cx="510.4" cy="1262" r="9.45"/><circle cx="513.5" cy="1259.3" r="9.45"/><circle cx="516.6" cy="1256.1" r="9.45"/><circle cx="519.7" cy="1254.5" r="9.45"/><circle cx="522.8" cy="1251.7" r="9.45"/><circle cx="525.9" cy="1250.2" r="9.45"/><circle cx="529" cy="1246.4" r="9.45"/><circle cx="532.1" cy="1243.9" r="9.45"/><circle cx="535.2" cy="1242.3" r="9.45"/><circle cx="538.3" cy="1240.1" r="9.45"/><circle cx="541.4" cy="1236.7" r="9.45"/><circle cx="544.5" cy="1231.9" r="9.45"/><circle cx="547.6" cy="1228.5" r="9.45"/><circle cx="550.7" cy="1225.7" r="9.45"/><circle cx="553.8" cy="1220.5" r="9.45"/><circle cx="556.9" cy="1215.7" r="9.45"/><circle cx="560" cy="1212.2" r="9.45"/><circle cx="563.1" cy="1208.2" r="9.45"/><circle cx="566.2" cy="1202.8" r="9.45"/><circle cx="569.3" cy="1197.3" r="9.45"/><circle cx="572.4" cy="1191.9" r="9.45"/><circle cx="575.5" cy="1186.5" r="9.45"/><circle cx="578.6" cy="1176.2" r="9.45"/><circle cx="581.7" cy="1168.2" r="9.45"/><circle cx="584.8" cy="1162.9" r="9.45"/><circle cx="587.9" cy="1159.1" r="9.45"/><circle cx="591" cy="1154.9" r="9.45"/><circle cx="594.1" cy="1152" r="9.45"/><circle cx="597.2" cy="1146.6" r="9.45"/><circle cx="600.3" cy="1140.6" r="9.45"/><circle cx="603.4" cy="1132.3" r="9.45"/><circle cx="606.5" cy="1127.5" r="9.45"/><circle cx="609.6" cy="1121.5" r="9.45"/><circle cx="612.7" cy="1116.4" r="9.45"/><circle cx="615.8" cy="1112.3" r="9.45"/><circle cx="618.9" cy="1107.9" r="9.45"/><circle cx="622" cy="1103.7" r="9.45"/><circle cx="625.1" cy="1096.3" r="9.45"/><circle cx="628.2" cy="1090.3" r="9.45"/><circle cx="631.3" cy="1084.6" r="9.45"/><circle cx="634.4" cy="1081.6" r="9.45"/><circle cx="637.5" cy="1076" r="9.45"/><circle cx="640.6" cy="1071.2" r="9.45"/><circle cx="643.7" cy="1068.1" r="9.45"/><circle cx="646.8" cy="1065.5" r="9.45"/><circle cx="649.8" cy="1060.2" r="9.45"/><circle cx="652.9" cy="1056.4" r="9.45"/><circle cx="656" cy="1054" r="9.45"/><circle cx="659.1" cy="1049.9" r="9.45"/><circle cx="662.2" cy="1046.5" r="9.45"/><circle cx="665.3" cy="1042.2" r="9.45"/><circle cx="668.4" cy="1040.5" r="9.45"/><circle cx="671.5" cy="1036.9" r="9.45"/><circle cx="674.6" cy="1032.5" r="9.45"/><circle cx="677.7" cy="1029" r="9.45"/><circle cx="680.8" cy="1023.3" r="9.45"/><circle cx="683.9" cy="1021.6" r="9.45"/><circle cx="687" cy="1017.3" r="9.45"/><circle cx="690.1" cy="1014.1" r="9.45"/><circle cx="693.2" cy="1010.6" r="9.45"/><circle cx="696.3" cy="1006.2" r="9.45"/><circle cx="699.4" cy="1001.6" r="9.45"/><circle cx="702.5" cy="999.6" r="9.45"/><circle cx="705.6" cy="995.4" r="9.45"/><circle cx="708.7" cy="992.4" r="9.45"/><circle cx="711.8" cy="989" r="9.45"/><circle cx="714.9" cy="986.1" r="9.45"/><circle cx="718" cy="981.7" r="9.45"/><circle cx="721.1" cy="981.5" r="9.45"/><circle cx="724.2" cy="978.1" r="9.45"/><circle cx="727.3" cy="976" r="9.45"/><circle cx="730.4" cy="974" r="9.45"/><circle cx="733.5" cy="970" r="9.45"/><circle cx="736.6" cy="966.1" r="9.45"/><circle cx="739.7" cy="964.2" r="9.45"/><circle cx="742.8" cy="961.6" r="9.45"/><circle cx="745.9" cy="959.7" r="9.45"/><circle cx="749" cy="957.7" r="9.45"/><circle cx="752.1" cy="953.8" r="9.45"/><circle cx="755.2" cy="953.2" r="9.45"/><circle cx="758.3" cy="949.4" r="9.45"/><circle cx="761.4" cy="948.4" r="9.45"/><circle cx="764.5" cy="945.9" r="9.45"/><circle cx="767.6" cy="943.6" r="9.45"/><circle cx="770.7" cy="941.7" r="9.45"/><circle cx="773.8" cy="939.3" r="9.45"/><circle cx="776.9" cy="937" r="9.45"/><circle cx="780" cy="933.8" r="9.45"/><circle cx="783.1" cy="932.2" r="9.45"/><circle cx="786.2" cy="930.4" r="9.45"/><circle cx="789.3" cy="926.9" r="9.45"/><circle cx="792.4" cy="922.7" r="9.45"/><circle cx="795.5" cy="918.5" r="9.45"/><circle cx="798.6" cy="913.7" r="9.45"/><circle cx="801.7" cy="911.8" r="9.45"/><circle cx="804.8" cy="907.2" r="9.45"/><circle cx="807.9" cy="903.8" r="9.45"/><circle cx="811" cy="900.3" r="9.45"/><circle cx="814.1" cy="897.2" r="9.45"/><circle cx="817.2" cy="893.5" r="9.45"/><circle cx="820.3" cy="890.4" r="9.45"/><circle cx="823.4" cy="886.3" r="9.45"/><circle cx="826.5" cy="883.4" r="9.45"/><circle cx="829.6" cy="882" r="9.45"/><circle cx="832.7" cy="876.8" r="9.45"/><circle cx="835.8" cy="873" r="9.45"/><circle cx="838.9" cy="869.9" r="9.45"/><circle cx="842" cy="866.3" r="9.45"/><circle cx="845.1" cy="861.4" r="9.45"/><circle cx="848.2" cy="858.6" r="9.45"/><circle cx="851.3" cy="856.4" r="9.45"/><circle cx="854.4" cy="853" r="9.45"/><circle cx="857.4" cy="850.4" r="9.45"/><circle cx="860.5" cy="849" r="9.45"/><circle cx="863.6" cy="844.9" r="9.45"/><circle cx="866.7" cy="843" r="9.45"/><circle cx="869.8" cy="839.9" r="9.45"/><circle cx="872.9" cy="838.5" r="9.45"/><circle cx="876" cy="832.7" r="9.45"/><circle cx="879.1" cy="829.8" r="9.45"/><circle cx="882.2" cy="825.4" r="9.45"/><circle cx="885.3" cy="821.6" r="9.45"/><circle cx="888.4" cy="816.8" r="9.45"/><circle cx="891.5" cy="813" r="9.45"/><circle cx="894.6" cy="806.9" r="9.45"/><circle cx="897.7" cy="805.4" r="9.45"/><circle cx="900.8" cy="801.8" r="9.45"/><circle cx="903.9" cy="798.9" r="9.45"/><circle cx="907" cy="797.2" r="9.45"/><circle cx="910.1" cy="793.4" r="9.45"/><circle cx="913.2" cy="789.4" r="9.45"/><circle cx="916.3" cy="787.1" r="9.45"/><circle cx="919.4" cy="782.1" r="9.45"/><circle cx="922.5" cy="778.2" r="9.45"/><circle cx="925.6" cy="774.2" r="9.45"/><circle cx="928.7" cy="769.3" r="9.45"/><circle cx="931.8" cy="765.4" r="9.45"/><circle cx="934.9" cy="759.5" r="9.45"/><circle cx="938" cy="754.2" r="9.45"/><circle cx="941.1" cy="750.9" r="9.45"/><circle cx="944.2" cy="747.2" r="9.45"/><circle cx="947.3" cy="743.5" r="9.45"/><circle cx="950.4" cy="741.3" r="9.45"/><circle cx="953.5" cy="737.2" r="9.45"/><circle cx="956.6" cy="732.9" r="9.45"/><circle cx="959.7" cy="731.6" r="9.45"/><circle cx="962.8" cy="727.6" r="9.45"/><circle cx="965.9" cy="724.4" r="9.45"/><circle cx="969" cy="720.6" r="9.45"/><circle cx="972.1" cy="717.3" r="9.45"/><circle cx="975.2" cy="713.3" r="9.45"/><circle cx="978.3" cy="710.5" r="9.45"/><circle cx="981.4" cy="706.3" r="9.45"/><circle cx="984.5" cy="702.7" r="9.45"/><circle cx="987.6" cy="699.1" r="9.45"/><circle cx="990.7" cy="694.2" r="9.45"/><circle cx="993.8" cy="691.5" r="9.45"/><circle cx="996.9" cy="687.8" r="9.45"/><circle cx="1000" cy="684.3" r="9.45"/><circle cx="1003.1" cy="679.3" r="9.45"/><circle cx="1006.2" cy="677.6" r="9.45"/><circle cx="1009.3" cy="672.5" r="9.45"/><circle cx="1012.4" cy="667.6" r="9.45"/><circle cx="1015.5" cy="663.2" r="9.45"/><circle cx="1018.6" cy="660.3" r="9.45"/><circle cx="1021.7" cy="656.6" r="9.45"/><circle cx="1024.8" cy="652.3" r="9.45"/><circle cx="1027.9" cy="649.1" r="9.45"/><circle cx="1031" cy="644.7" r="9.45"/><circle cx="1034.1" cy="641.8" r="9.45"/><circle cx="1037.2" cy="637.1" r="9.45"/><circle cx="1040.3" cy="633.8" r="9.45"/><circle cx="1043.4" cy="630.8" r="9.45"/><circle cx="1046.5" cy="628.2" r="9.45"/><circle cx="1049.6" cy="621.7" r="9.45"/><circle cx="1052.7" cy="618.3" r="9.45"/><circle cx="1055.8" cy="614.2" r="9.45"/><circle cx="1058.9" cy="611.7" r="9.45"/><circle cx="1061.9" cy="606.4" r="9.45"/><circle cx="1065" cy="603.1" r="9.45"/><circle cx="1068.1" cy="599.6" r="9.45"/><circle cx="1071.2" cy="594.9" r="9.45"/><circle cx="1074.3" cy="590.9" r="9.45"/><circle cx="1077.4" cy="587" r="9.45"/><circle cx="1080.5" cy="581.5" r="9.45"/><circle cx="1083.6" cy="577.4" r="9.45"/><circle cx="1086.7" cy="573.5" r="9.45"/><circle cx="1089.8" cy="569.2" r="9.45"/><circle cx="1092.9" cy="564.3" r="9.45"/><circle cx="1096" cy="558.4" r="9.45"/><circle cx="1099.1" cy="554.7" r="9.45"/><circle cx="1102.2" cy="550.9" r="9.45"/><circle cx="1105.3" cy="545.9" r="9.45"/><circle cx="1108.4" cy="540.7" r="9.45"/><circle cx="1111.5" cy="535.5" r="9.45"/><circle cx="1114.6" cy="532.1" r="9.45"/><circle cx="1117.7" cy="527" r="9.45"/><circle cx="1120.8" cy="522.7" r="9.45"/><circle cx="1123.9" cy="519.1" r="9.45"/><circle cx="1127" cy="517" r="9.45"/><circle cx="1130.1" cy="512" r="9.45"/><circle cx="1133.2" cy="508.3" r="9.45"/><circle cx="1136.3" cy="502" r="9.45"/><circle cx="1139.4" cy="497.6" r="9.45"/><circle cx="1142.5" cy="490.8" r="9.45"/><circle cx="1145.6" cy="485.4" r="9.45"/><circle cx="1148.7" cy="481.8" r="9.45"/><circle cx="1151.8" cy="475.5" r="9.45"/><circle cx="1154.9" cy="470.1" r="9.45"/><circle cx="1158" cy="466.5" r="9.45"/><circle cx="1161.1" cy="463.1" r="9.45"/><circle cx="1164.2" cy="460.3" r="9.45"/><circle cx="1167.3" cy="455.7" r="9.45"/><circle cx="1170.4" cy="451.4" r="9.45"/><circle cx="1173.5" cy="449.1" r="9.45"/><circle cx="1176.6" cy="445.7" r="9.45"/><circle cx="1179.7" cy="441.8" r="9.45"/><circle cx="1182.8" cy="438.5" r="9.45"/><circle cx="1185.9" cy="433.4" r="9.45"/><circle cx="1189" cy="429.6" r="9.45"/><circle cx="1192.1" cy="424.2" r="9.45"/><circle cx="1195.2" cy="421.9" r="9.45"/><circle cx="1198.3" cy="419.3" r="9.45"/><circle cx="1201.4" cy="414.9" r="9.45"/><circle cx="1204.5" cy="411.1" r="9.45"/><circle cx="1207.6" cy="407.7" r="9.45"/><circle cx="1210.7" cy="405.5" r="9.45"/><circle cx="1213.8" cy="400" r="9.45"/><circle cx="1216.9" cy="396.9" r="9.45"/><circle cx="1220" cy="393.6" r="9.45"/><circle cx="1223.1" cy="390" r="9.45"/><circle cx="1226.2" cy="385.4" r="9.45"/><circle cx="1229.3" cy="382.4" r="9.45"/><circle cx="1232.4" cy="378.6" r="9.45"/><circle cx="1235.5" cy="375.8" r="9.45"/><circle cx="1238.6" cy="372.9" r="9.45"/><circle cx="1241.7" cy="369.7" r="9.45"/><circle cx="1244.8" cy="368.4" r="9.45"/><circle cx="1247.9" cy="367" r="9.45"/><circle cx="1251" cy="363.7" r="9.45"/><circle cx="1254.1" cy="362.5" r="9.45"/><circle cx="1257.2" cy="361.7" r="9.45"/><circle cx="1260.3" cy="359.1" r="9.45"/><circle cx="1263.4" cy="358.9" r="9.45"/><circle cx="1272.6" cy="357.5" r="9.45"/><circle cx="1275.7" cy="356.5" r="9.45"/><circle cx="1278.8" cy="354.2" r="9.45"/><circle cx="1281.9" cy="354.6" r="9.45"/><circle cx="1285" cy="354" r="9.45"/><circle cx="1288.1" cy="353.9" r="9.45"/><circle cx="1291.2" cy="354.9" r="9.45"/><circle cx="1294.3" cy="352.6" r="9.45"/><circle cx="1297.4" cy="354.4" r="9.45"/><circle cx="1300.5" cy="353.5" r="9.45"/><circle cx="1303.6" cy="354.6" r="9.45"/><circle cx="1312.9" cy="354.1" r="9.45"/><circle cx="1316" cy="354.8" r="9.45"/><circle cx="1319.1" cy="354.6" r="9.45"/><circle cx="1322.2" cy="355.4" r="9.45"/><circle cx="1325.3" cy="355" r="9.45"/><circle cx="1328.4" cy="354.2" r="9.45"/><circle cx="1331.5" cy="356.9" r="9.45"/><circle cx="1334.6" cy="357.1" r="9.45"/><circle cx="1343.9" cy="358.6" r="9.45"/><circle cx="1347" cy="357.9" r="9.45"/><circle cx="1350.1" cy="358.2" r="9.45"/><circle cx="1353.2" cy="359.1" r="9.45"/><circle cx="1356.3" cy="360.7" r="9.45"/><circle cx="1359.4" cy="359.3" r="9.45"/><circle cx="1362.5" cy="361.9" r="9.45"/><circle cx="1365.6" cy="361.2" r="9.45"/><circle cx="1368.7" cy="361.5" r="9.45"/><circle cx="1371.8" cy="364.1" r="9.45"/><circle cx="1374.9" cy="364" r="9.45"/><circle cx="1378" cy="364.3" r="9.45"/><circle cx="1381.1" cy="366.3" r="9.45"/><circle cx="1384.2" cy="368.8" r="9.45"/><circle cx="1387.3" cy="370.6" r="9.45"/><circle cx="1390.4" cy="371" r="9.45"/><circle cx="1393.5" cy="373.3" r="9.45"/><circle cx="1396.6" cy="375.2" r="9.45"/><circle cx="1399.7" cy="375.8" r="9.45"/><circle cx="1402.8" cy="378.1" r="9.45"/><circle cx="1405.9" cy="379.4" r="9.45"/><circle cx="1409" cy="380.6" r="9.45"/><circle cx="1412.1" cy="382.3" r="9.45"/><circle cx="1415.2" cy="384.3" r="9.45"/><circle cx="1418.3" cy="385.8" r="9.45"/><circle cx="1421.4" cy="386.8" r="9.45"/><circle cx="1424.5" cy="388.3" r="9.45"/><circle cx="1427.6" cy="390.8" r="9.45"/><circle cx="1430.7" cy="391.5" r="9.45"/><circle cx="1433.8" cy="393.4" r="9.45"/><circle cx="1436.9" cy="395" r="9.45"/><circle cx="1440" cy="395.9" r="9.45"/><circle cx="1443.1" cy="398.6" r="9.45"/><circle cx="1446.2" cy="397.7" r="9.45"/><circle cx="1449.3" cy="400.4" r="9.45"/><circle cx="1452.4" cy="401.1" r="9.45"/><circle cx="1455.5" cy="404.4" r="9.45"/><circle cx="1458.6" cy="406" r="9.45"/><circle cx="1461.7" cy="405.1" r="9.45"/><circle cx="1464.8" cy="407.7" r="9.45"/><circle cx="1467.9" cy="410.8" r="9.45"/><circle cx="1471" cy="412.8" r="9.45"/><circle cx="1474.1" cy="414.7" r="9.45"/><circle cx="1477.1" cy="416" r="9.45"/><circle cx="1480.2" cy="418.3" r="9.45"/><circle cx="1483.3" cy="420.2" r="9.45"/><circle cx="1486.4" cy="421.4" r="9.45"/><circle cx="1489.5" cy="423.9" r="9.45"/><circle cx="1498.8" cy="426.5" r="9.45"/><circle cx="1501.9" cy="429.1" r="9.45"/><circle cx="1505" cy="429.3" r="9.45"/><circle cx="1508.1" cy="429.7" r="9.45"/><circle cx="1511.2" cy="431.5" r="9.45"/><circle cx="1514.3" cy="431.4" r="9.45"/><circle cx="1517.4" cy="432.2" r="9.45"/><circle cx="1520.5" cy="432.5" r="9.45"/><circle cx="1529.8" cy="436.6" r="9.45"/><circle cx="1532.9" cy="436.5" r="9.45"/><circle cx="1536" cy="438.2" r="9.45"/><circle cx="1539.1" cy="438.2" r="9.45"/><circle cx="1542.2" cy="438.9" r="9.45"/><circle cx="1545.3" cy="440.1" r="9.45"/><circle cx="1554.6" cy="441.5" r="9.45"/><circle cx="1557.7" cy="442.3" r="9.45"/><circle cx="1560.8" cy="443.2" r="9.45"/><circle cx="1563.9" cy="443.3" r="9.45"/><circle cx="1567" cy="445.6" r="9.45"/><circle cx="1570.1" cy="445.5" r="9.45"/><circle cx="1573.2" cy="447.3" r="9.45"/><circle cx="1576.3" cy="447.5" r="9.45"/><circle cx="1579.4" cy="449.9" r="9.45"/><circle cx="1582.5" cy="451.8" r="9.45"/><circle cx="1585.6" cy="453.6" r="9.45"/><circle cx="1588.7" cy="458.2" r="9.45"/><circle cx="1591.8" cy="460.5" r="9.45"/><circle cx="1594.9" cy="466.7" r="9.45"/><circle cx="1598" cy="472.4" r="9.45"/><circle cx="1601.1" cy="478" r="9.45"/><circle cx="1604.2" cy="485.9" r="9.45"/><circle cx="1607.3" cy="495.4" r="9.45"/><circle cx="1610.4" cy="505.4" r="9.45"/><circle cx="1613.5" cy="518.2" r="9.45"/><circle cx="1616.6" cy="532.9" r="9.45"/><circle cx="1619.7" cy="547.1" r="9.45"/><circle cx="1622.8" cy="563.4" r="9.45"/><circle cx="1625.9" cy="577.5" r="9.45"/><circle cx="1629" cy="595.1" r="9.45"/><circle cx="1632.1" cy="609.9" r="9.45"/><circle cx="1635.2" cy="625.7" r="9.45"/><circle cx="1638.3" cy="641.5" r="9.45"/><circle cx="1641.4" cy="656.6" r="9.45"/><circle cx="1644.5" cy="669.2" r="9.45"/><circle cx="1647.6" cy="682.7" r="9.45"/><circle cx="1650.7" cy="697.3" r="9.45"/><circle cx="1653.8" cy="711" r="9.45"/><circle cx="1656.9" cy="726.5" r="9.45"/><circle cx="1660" cy="743" r="9.45"/><circle cx="1663.1" cy="755.4" r="9.45"/><circle cx="1666.2" cy="771" r="9.45"/><circle cx="1669.3" cy="783.6" r="9.45"/><circle cx="1672.4" cy="798.8" r="9.45"/><circle cx="1675.5" cy="812.1" r="9.45"/><circle cx="1678.6" cy="825.8" r="9.45"/><circle cx="1681.6" cy="839.2" r="9.45"/><circle cx="1684.7" cy="852.4" r="9.45"/><circle cx="1687.8" cy="863.4" r="9.45"/><circle cx="1690.9" cy="876" r="9.45"/><circle cx="1694" cy="888.2" r="9.45"/><circle cx="1697.1" cy="902.7" r="9.45"/><circle cx="1700.2" cy="915.9" r="9.45"/><circle cx="1703.3" cy="931.3" r="9.45"/><circle cx="1706.4" cy="945.7" r="9.45"/><circle cx="1709.5" cy="962.1" r="9.45"/><circle cx="1712.6" cy="974.4" r="9.45"/><circle cx="1715.7" cy="990.8" r="9.45"/><circle cx="1718.8" cy="1006.4" r="9.45"/><circle cx="1721.9" cy="1019.2" r="9.45"/><circle cx="1725" cy="1031.9" r="9.45"/><circle cx="1728.1" cy="1044.7" r="9.45"/><circle cx="1731.2" cy="1055.5" r="9.45"/><circle cx="1734.3" cy="1067.7" r="9.45"/><circle cx="1737.4" cy="1079.9" r="9.45"/><circle cx="1740.5" cy="1088.4" r="9.45"/><circle cx="1743.6" cy="1095.4" r="9.45"/><circle cx="1746.7" cy="1103.6" r="9.45"/><circle cx="1749.8" cy="1111.3" r="9.45"/><circle cx="1752.9" cy="1119" r="9.45"/><circle cx="1756" cy="1123.7" r="9.45"/><circle cx="1759.1" cy="1129.7" r="9.45"/><circle cx="1762.2" cy="1137.3" r="9.45"/><circle cx="1765.3" cy="1143.9" r="9.45"/><circle cx="1768.4" cy="1149.1" r="9.45"/><circle cx="1771.5" cy="1153.3" r="9.45"/><circle cx="1774.6" cy="1157" r="9.45"/><circle cx="1777.7" cy="1161.2" r="9.45"/><circle cx="1780.8" cy="1163.1" r="9.45"/><circle cx="1783.9" cy="1168" r="9.45"/><circle cx="1787" cy="1169.3" r="9.45"/><circle cx="1790.1" cy="1172.4" r="9.45"/><circle cx="1793.2" cy="1175.7" r="9.45"/><circle cx="1796.3" cy="1177.2" r="9.45"/><circle cx="1799.4" cy="1177.5" r="9.45"/><circle cx="1802.5" cy="1181" r="9.45"/><circle cx="1805.6" cy="1183.2" r="9.45"/><circle cx="1808.7" cy="1183.7" r="9.45"/><circle cx="1811.8" cy="1185.5" r="9.45"/><circle cx="1814.9" cy="1188.1" r="9.45"/><circle cx="1818" cy="1189" r="9.45"/><circle cx="1821.1" cy="1193.3" r="9.45"/><circle cx="1830.4" cy="1197.9" r="9.45"/><circle cx="1833.5" cy="1200" r="9.45"/><circle cx="1836.6" cy="1202.5" r="9.45"/><circle cx="1839.7" cy="1204.9" r="9.45"/><circle cx="1842.8" cy="1207.3" r="9.45"/><circle cx="1845.9" cy="1211.2" r="9.45"/><circle cx="1849" cy="1211.8" r="9.45"/><circle cx="1852.1" cy="1216.3" r="9.45"/><circle cx="1855.2" cy="1218.4" r="9.45"/><circle cx="1858.3" cy="1221.3" r="9.45"/><circle cx="1861.4" cy="1223.5" r="9.45"/><circle cx="1864.5" cy="1224.6" r="9.45"/><circle cx="1867.6" cy="1226.7" r="9.45"/><circle cx="1870.7" cy="1229.7" r="9.45"/><circle cx="1873.8" cy="1231.3" r="9.45"/><circle cx="1876.9" cy="1232.6" r="9.45"/><circle cx="1880" cy="1236.9" r="9.45"/><circle cx="1883.1" cy="1239.8" r="9.45"/><circle cx="1886.2" cy="1239.9" r="9.45"/><circle cx="1889.2" cy="1244.2" r="9.45"/><circle cx="1892.3" cy="1248.9" r="9.45"/><circle cx="1895.4" cy="1250.4" r="9.45"/><circle cx="1898.5" cy="1252.4" r="9.45"/><circle cx="1901.6" cy="1254.2" r="9.45"/><circle cx="1904.7" cy="1255.9" r="9.45"/><circle cx="1907.8" cy="1257.9" r="9.45"/><circle cx="1910.9" cy="1259.5" r="9.45"/><circle cx="1914" cy="1262.2" r="9.45"/><circle cx="1917.1" cy="1263.3" r="9.45"/><circle cx="1920.2" cy="1265.3" r="9.45"/><circle cx="1923.3" cy="1267.1" r="9.45"/><circle cx="1926.4" cy="1270.7" r="9.45"/><circle cx="1929.5" cy="1272.9" r="9.45"/><circle cx="1932.6" cy="1276.3" r="9.45"/><circle cx="1935.7" cy="1280" r="9.45"/><circle cx="1938.8" cy="1282.2" r="9.45"/><circle cx="1941.9" cy="1284.6" r="9.45"/><circle cx="1945" cy="1286.7" r="9.45"/><circle cx="1948.1" cy="1288.8" r="9.45"/><circle cx="1951.2" cy="1290.8" r="9.45"/><circle cx="1954.3" cy="1292.6" r="9.45"/><circle cx="1957.4" cy="1295" r="9.45"/><circle cx="1960.5" cy="1294.7" r="9.45"/><circle cx="1963.6" cy="1297.2" r="9.45"/><circle cx="1966.7" cy="1296.8" r="9.45"/><circle cx="1976" cy="1297.4" r="9.45"/><circle cx="1979.1" cy="1298.1" r="9.45"/><circle cx="1982.2" cy="1297.4" r="9.45"/><circle cx="1985.3" cy="1298.8" r="9.45"/><circle cx="1988.4" cy="1297.2" r="9.45"/><circle cx="1991.5" cy="1295.9" r="9.45"/><circle cx="1994.6" cy="1297" r="9.45"/><circle cx="1997.7" cy="1295.9" r="9.45"/><circle cx="2000.8" cy="1297.4" r="9.45"/><circle cx="2003.9" cy="1298.2" r="9.45"/><circle cx="2007" cy="1297.9" r="9.45"/><circle cx="2016.3" cy="1298.8" r="9.45"/><circle cx="2019.4" cy="1297.7" r="9.45"/><circle cx="2022.5" cy="1297.5" r="9.45"/><circle cx="2025.6" cy="1298.3" r="9.45"/><circle cx="2028.7" cy="1299.4" r="9.45"/><circle cx="2031.8" cy="1298.6" r="9.45"/><circle cx="2034.9" cy="1297.7" r="9.45"/><circle cx="2038" cy="1297.9" r="9.45"/><circle cx="2047.3" cy="1297" r="9.45"/><circle cx="2050.4" cy="1297.9" r="9.45"/><circle cx="2053.5" cy="1297.2" r="9.45"/><circle cx="2056.6" cy="1297.9" r="9.45"/><circle cx="2059.7" cy="1298" r="9.45"/><circle cx="2062.8" cy="1299.8" r="9.45"/><circle cx="2072.1" cy="1298" r="9.45"/><circle cx="2075.2" cy="1298.5" r="9.45"/><circle cx="2078.3" cy="1299" r="9.45"/><circle cx="2081.4" cy="1297.9" r="9.45"/><circle cx="2084.5" cy="1297.7" r="9.45"/><circle cx="2087.6" cy="1297.1" r="9.45"/><circle cx="2090.7" cy="1297.7" r="9.45"/><circle cx="2099.9" cy="1297.7" r="9.45"/><circle cx="2103" cy="1298.3" r="9.45"/><circle cx="2106.1" cy="1298.6" r="9.45"/><circle cx="2109.2" cy="1299" r="9.45"/><circle cx="2112.3" cy="1298.2" r="9.45"/><circle cx="2115.4" cy="1298.5" r="9.45"/><circle cx="2118.5" cy="1297.3" r="9.45"/><circle cx="2121.6" cy="1297.9" r="9.45"/><circle cx="2124.7" cy="1300" r="9.45"/><circle cx="2127.8" cy="1297.1" r="9.45"/><circle cx="2130.9" cy="1298.6" r="9.45"/><circle cx="2134" cy="1299" r="9.45"/><circle cx="2137.1" cy="1298.6" r="9.45"/><circle cx="2140.2" cy="1298.3" r="9.45"/><circle cx="2149.5" cy="1298.9" r="9.45"/><circle cx="2152.6" cy="1297.6" r="9.45"/><circle cx="2155.7" cy="1298.9" r="9.45"/><circle cx="2158.8" cy="1298.4" r="9.45"/><circle cx="2161.9" cy="1298.7" r="9.45"/><circle cx="2165" cy="1299.3" r="9.45"/><circle cx="2168.1" cy="1299.6" r="9.45"/><circle cx="2171.2" cy="1299.9" r="9.45"/><circle cx="2174.3" cy="1298.8" r="9.45"/><circle cx="2183.6" cy="1300.1" r="9.45"/><circle cx="2186.7" cy="1300.4" r="9.45"/><circle cx="2189.8" cy="1299.2" r="9.45"/><circle cx="2192.9" cy="1299.2" r="9.45"/><circle cx="2196" cy="1300" r="9.45"/>
</g>
<polyline points="340,1320.9 343.1,1322.2 346.2,1321.6 349.3,1321.7 352.4,1320.6 355.5,1321.3 358.6,1321.9 361.7,1322.7 364.8,1322.7 367.9,1321.8 371,1321.7 374,1321.2 377.1,1322.2 380.2,1321.6 383.3,1322.3 386.4,1323.2 389.5,1321.7 392.6,1320.5 395.7,1321 398.8,1320.5 401.9,1320.6 405,1322.6 408.1,1321.7 411.2,1320.3 414.3,1322 417.4,1322.4 420.5,1321.1 423.6,1320.8 426.7,1321 429.8,1321.4 432.9,1321.6 435.9,1322 439,1322 442.1,1321.9 445.2,1321.9 448.3,1321.3 451.4,1319.4 454.5,1320.4 457.6,1320.7 460.7,1320 463.8,1320.9 466.9,1319.8 470,1319.2 473.1,1321 476.2,1320.2 479.3,1319.7 482.4,1320.1 485.5,1320 488.6,1319.2 491.7,1316.7 494.8,1317.9 497.9,1317.8 500.9,1317.1 504,1317.8 507.1,1318.4 510.2,1316.7 513.3,1316 516.4,1318.2 519.5,1315.9 522.6,1315 525.7,1315.9 528.8,1315.8 531.9,1314.5 535,1315.4 538.1,1314 541.2,1313.3 544.3,1313.9 547.4,1314 550.5,1312.5 553.6,1312.9 556.7,1312.1 559.8,1314.1 562.9,1310.9 565.9,1312.2 569,1310.7 572.1,1310.2 575.2,1310.5 578.3,1310.3 581.4,1310.2 584.5,1309.1 587.6,1308 590.7,1307.6 593.8,1308.1 596.9,1307.7 600,1308 603.1,1306.8 606.2,1307 609.3,1306.9 612.4,1305.4 615.5,1303.7 618.6,1303.6 621.7,1303 624.8,1305 627.8,1302.6 630.9,1303.9 634,1302.9 637.1,1303.4 640.2,1302.4 643.3,1301.1 646.4,1300.6 649.5,1300.4 652.6,1300 655.7,1299 658.8,1299 661.9,1299.9 665,1296.8 668.1,1298 671.2,1296.6 674.3,1297.1 677.4,1297.3 680.5,1296.2 683.6,1296.5 686.7,1294.2 689.8,1296 692.8,1294.3 695.9,1294.9 699,1294.2 702.1,1291.6 705.2,1292.7 708.3,1293.1 711.4,1293.9 714.5,1292.5 717.6,1292.2 720.7,1290.5 723.8,1292.4 726.9,1292.4 730,1290.6 733.1,1290.1 736.2,1288.7 739.3,1290.3 742.4,1291.5 745.5,1289.6 748.6,1289.7 751.7,1288.8 754.8,1287.3 757.8,1288.8 760.9,1286.4 764,1287 767.1,1287 770.2,1287.2 773.3,1286.6 776.4,1286.2 779.5,1285 782.6,1284.3 785.7,1285.1 788.8,1284.3 791.9,1283.5 795,1283.3 798.1,1283.7 801.2,1282.3 804.3,1282.5 807.4,1282 810.5,1283.2 813.6,1283.1 816.7,1284.1 819.7,1281.1 822.8,1281.4 825.9,1282.4 829,1281.3 832.1,1280.9 835.2,1282.2 838.3,1280.3 841.4,1279.4 844.5,1278.9 847.6,1280 850.7,1279.6 853.8,1278 856.9,1278 860,1278.9 863.1,1278.6 866.2,1277.3 869.3,1278 872.4,1277.7 875.5,1275.5 878.6,1276.3 881.7,1276.6 884.7,1275.5 887.8,1273.9 890.9,1275 894,1275.5 897.1,1275.9 900.2,1272.5 903.3,1276 906.4,1272.7 909.5,1274 912.6,1273.9 915.7,1273.3 918.8,1272.3 921.9,1270.9 925,1272 928.1,1270.5 931.2,1268.7 934.3,1272.6 937.4,1270.6 940.5,1271.1 943.6,1268.5 946.7,1270.1 949.7,1269.8 952.8,1269.4 955.9,1267.7 959,1266.3 962.1,1266.8 965.2,1264.7 968.3,1264.7 971.4,1265.8 974.5,1264.5 977.6,1264.7 980.7,1264.4 983.8,1265.6 986.9,1264.7 990,1263.3 993.1,1263.9 996.2,1261.9 999.3,1261.9 1002.4,1262.6 1005.5,1260.5 1008.6,1260.9 1011.6,1259.8 1014.7,1260.6 1017.8,1261.5 1020.9,1259.3 1024,1259.8 1027.1,1258.6 1030.2,1258 1033.3,1257.7 1036.4,1259.5 1039.5,1259.9 1042.6,1258.1 1045.7,1256.9 1048.8,1257.7 1051.9,1256.5 1055,1257.1 1058.1,1256.4 1061.2,1256 1064.3,1255.9 1067.4,1254.6 1070.5,1254.4 1073.6,1252.9 1076.6,1253.5 1079.7,1252.3 1082.8,1252.9 1085.9,1251.8 1089,1252.2 1092.1,1252 1095.2,1250.1 1098.3,1250.1 1101.4,1249.5 1104.5,1250.4 1107.6,1250.6 1110.7,1249.5 1113.8,1248 1116.9,1249 1120,1246.2 1123.1,1248.1 1126.2,1245.9 1129.3,1243.8 1132.4,1247.7 1135.5,1246.5 1138.6,1244 1141.6,1244.5 1144.7,1243.8 1147.8,1243.7 1150.9,1242 1154,1242.3 1157.1,1242.8 1160.2,1242.2 1163.3,1242.6 1166.4,1241.4 1169.5,1242.8 1172.6,1240 1175.7,1240.4 1178.8,1238.3 1181.9,1238.5 1185,1240.2 1188.1,1238.1 1191.2,1238.9 1194.3,1238.2 1197.4,1237.1 1200.5,1237.3 1203.5,1236.9 1206.6,1236.7 1209.7,1237.4 1212.8,1237.1 1215.9,1235.9 1219,1235.4 1222.1,1236.1 1225.2,1235.6 1228.3,1236.3 1231.4,1237.4 1234.5,1235.8 1237.6,1234.9 1240.7,1234.6 1243.8,1233.8 1246.9,1233.6 1250,1233.4 1253.1,1233.7 1256.2,1233.5 1259.3,1234.2 1262.4,1233.1 1265.5,1233.1 1268.5,1232.1 1271.6,1234.2 1274.7,1233 1277.8,1233.9 1280.9,1232.9 1284,1233.2 1287.1,1231.6 1290.2,1232.2 1293.3,1233.7 1296.4,1230.4 1299.5,1232.2 1302.6,1232.5 1305.7,1231.5 1308.8,1231.7 1311.9,1232.1 1315,1230.6 1318.1,1231.5 1321.2,1230.6 1324.3,1230.8 1327.4,1231 1330.5,1231.5 1333.5,1231.9 1336.6,1232.3 1339.7,1230.9 1342.8,1233.8 1345.9,1233.3 1349,1233 1352.1,1232.3 1355.2,1232.6 1358.3,1233.2 1361.4,1233.1 1364.5,1231.5 1367.6,1233.5 1370.7,1235.3 1373.8,1231.4 1376.9,1233.8 1380,1233.3 1383.1,1232.9 1386.2,1234.2 1389.3,1232.1 1392.4,1233.2 1395.4,1234.3 1398.5,1233 1401.6,1232.9 1404.7,1233.4 1407.8,1233 1410.9,1234.8 1414,1232.9 1417.1,1234.5 1420.2,1232.9 1423.3,1234.6 1426.4,1234.1 1429.5,1232.3 1432.6,1234.6 1435.7,1233.8 1438.8,1234.5 1441.9,1236.3 1445,1234.3 1448.1,1234.6 1451.2,1236.8 1454.3,1236 1457.4,1237.4 1460.4,1236.6 1463.5,1235.8 1466.6,1236.8 1469.7,1238.1 1472.8,1238.1 1475.9,1237.5 1479,1237.8 1482.1,1237.8 1485.2,1237.7 1488.3,1239.9 1491.4,1238.5 1494.5,1237.7 1497.6,1238.3 1500.7,1239.4 1503.8,1239.5 1506.9,1238.9 1510,1238.6 1513.1,1239.3 1516.2,1238 1519.3,1238.4 1522.4,1240.2 1525.4,1239.2 1528.5,1240 1531.6,1240.8 1534.7,1240.4 1537.8,1239.9 1540.9,1241.7 1544,1240.5 1547.1,1239.7 1550.2,1240.6 1553.3,1240.3 1556.4,1239.3 1559.5,1240.1 1562.6,1239.9 1565.7,1238.4 1568.8,1239.9 1571.9,1239.8 1575,1239.6 1578.1,1238.6 1581.2,1239.7 1584.3,1240 1587.3,1240.2 1590.4,1239.2 1593.5,1240.8 1596.6,1239.4 1599.7,1240.3 1602.8,1241.9 1605.9,1240.8 1609,1241.8 1612.1,1243.9 1615.2,1243.7 1618.3,1245.1 1621.4,1247 1624.5,1249.2 1627.6,1248.1 1630.7,1250.7 1633.8,1251.9 1636.9,1253.2 1640,1254.7 1643.1,1256 1646.2,1258.2 1649.3,1258.5 1652.3,1260.7 1655.4,1262.2 1658.5,1262.7 1661.6,1264.8 1664.7,1267.5 1667.8,1268 1670.9,1268.7 1674,1270.7 1677.1,1271.5 1680.2,1274 1683.3,1275.9 1686.4,1276 1689.5,1277.8 1692.6,1280.3 1695.7,1280.3 1698.8,1282.1 1701.9,1282.5 1705,1283.9 1708.1,1285.4 1711.2,1288.9 1714.3,1288.1 1717.3,1289.3 1720.4,1290.6 1723.5,1292.3 1726.6,1294.2 1729.7,1295.1 1732.8,1297.8 1735.9,1297.5 1739,1299.5 1742.1,1299.6 1745.2,1300.8 1748.3,1300.1 1751.4,1302.1 1754.5,1303 1757.6,1303.6 1760.7,1302.9 1763.8,1306 1766.9,1305.5 1770,1306.1 1773.1,1306.8 1776.2,1307.3 1779.2,1308.4 1782.3,1307.5 1785.4,1308.3 1788.5,1309.7 1791.6,1310 1794.7,1310 1797.8,1310.3 1800.9,1310.4 1804,1311.4 1807.1,1312.8 1810.2,1311.3 1813.3,1313.7 1816.4,1313.5 1819.5,1312.8 1822.6,1314.1 1825.7,1312.5 1828.8,1312.6 1831.9,1313.2 1835,1314.2 1838.1,1314.5 1841.2,1314.6 1844.2,1315.3 1847.3,1313.7 1850.4,1316 1853.5,1314.7 1856.6,1315.5 1859.7,1315.9 1862.8,1315.5 1865.9,1315.6 1869,1316.1 1872.1,1317.1 1875.2,1317.7 1878.3,1317.9 1881.4,1316.9 1884.5,1317.3 1887.6,1317.4 1890.7,1318.7 1893.8,1316.9 1896.9,1319.7 1900,1318.5 1903.1,1318.5 1906.2,1319.6 1909.2,1320.3 1912.3,1320 1915.4,1320.7 1918.5,1320.2 1921.6,1321.2 1924.7,1321.4 1927.8,1320.5 1930.9,1321.9 1934,1321 1937.1,1321.1 1940.2,1320.4 1943.3,1321 1946.4,1322 1949.5,1320.4 1952.6,1322.1 1955.7,1321.9 1958.8,1321.9 1961.9,1320.1 1965,1321.8 1968.1,1322.5 1971.1,1321.5 1974.2,1322.2 1977.3,1320.3 1980.4,1322.8 1983.5,1321.8 1986.6,1323.1 1989.7,1321 1992.8,1323 1995.9,1322.3 1999,1323.1 2002.1,1321.8 2005.2,1322 2008.3,1324.3 2011.4,1321.8 2014.5,1321.9 2017.6,1322.3 2020.7,1321.7 2023.8,1323.5 2026.9,1323.9 2030,1321.9 2033.1,1321.1 2036.1,1323.4 2039.2,1323.4 2042.3,1323.2 2045.4,1323.4 2048.5,1321.8 2051.6,1322.4 2054.7,1321.4 2057.8,1321.4 2060.9,1323.3 2064,1322 2067.1,1324.3 2070.2,1322.6 2073.3,1322 2076.4,1323.1 2079.5,1323.9 2082.6,1322.9 2085.7,1321.5 2088.8,1322.8 2091.9,1323.6 2095,1322.1 2098.1,1321.9 2101.1,1323.3 2104.2,1322.6 2107.3,1321.6 2110.4,1322.2 2113.5,1321.9 2116.6,1322.7 2119.7,1322.6 2122.8,1323.4 2125.9,1323.1 2129,1321.2 2132.1,1322.8 2135.2,1323.2 2138.3,1322.9 2141.4,1323.3 2144.5,1322.1 2147.6,1321.7 2150.7,1323.2 2153.8,1321.6 2156.9,1320.8 2160,1323.3 2163,1321.9 2166.1,1322.3 2169.2,1321.4 2172.3,1321.4 2175.4,1321.6 2178.5,1322.2 2181.6,1322.8 2184.7,1320.7 2187.8,1323.1 2190.9,1321.6 2194,1321.6" fill="none" stroke="#92D050" stroke-width="4"/>
<path d="M340 1320.9h0M343.1 1322.2h0M346.2 1321.6h0M349.3 1321.7h0M352.4 1320.6h0M355.5 1321.3h0M358.6 1321.9h0M361.7 1322.7h0M364.8 1322.7h0M367.9 1321.8h0M371 1321.7h0M374 1321.2h0M377.1 1322.2h0M380.2 1321.6h0M383.3 1322.3h0M386.4 1323.2h0M389.5 1321.7h0M392.6 1320.5h0M395.7 1321h0M398.8 1320.5h0M401.9 1320.6h0M405 1322.6h0M408.1 1321.7h0M411.2 1320.3h0M414.3 1322h0M417.4 1322.4h0M420.5 1321.1h0M423.6 1320.8h0M426.7 1321h0M429.8 1321.4h0M432.9 1321.6h0M435.9 1322h0M439 1322h0M442.1 1321.9h0M445.2 1321.9h0M448.3 1321.3h0M451.4 1319.4h0M454.5 1320.4h0M457.6 1320.7h0M460.7 1320h0M463.8 1320.9h0M466.9 1319.8h0M470 1319.2h0M473.1 1321h0M476.2 1320.2h0M479.3 1319.7h0M482.4 1320.1h0M485.5 1320h0M488.6 1319.2h0M491.7 1316.7h0M494.8 1317.9h0M497.9 1317.8h0M500.9 1317.1h0M504 1317.8h0M507.1 1318.4h0M510.2 1316.7h0M513.3 1316h0M516.4 1318.2h0M519.5 1315.9h0M522.6 1315h0M525.7 1315.9h0M528.8 1315.8h0M531.9 1314.5h0M535 1315.4h0M538.1 1314h0M541.2 1313.3h0M544.3 1313.9h0M547.4 1314h0M550.5 1312.5h0M553.6 1312.9h0M556.7 1312.1h0M559.8 1314.1h0M562.9 1310.9h0M565.9 1312.2h0M569 1310.7h0M572.1 1310.2h0M575.2 1310.5h0M578.3 1310.3h0M581.4 1310.2h0M584.5 1309.1h0M587.6 1308h0M590.7 1307.6h0M593.8 1308.1h0M596.9 1307.7h0M600 1308h0M603.1 1306.8h0M606.2 1307h0M609.3 1306.9h0M612.4 1305.4h0M615.5 1303.7h0M618.6 1303.6h0M621.7 1303h0M624.8 1305h0M627.8 1302.6h0M630.9 1303.9h0M634 1302.9h0M637.1 1303.4h0M640.2 1302.4h0M643.3 1301.1h0M646.4 1300.6h0M649.5 1300.4h0M652.6 1300h0M655.7 1299h0M658.8 1299h0M661.9 1299.9h0M665 1296.8h0M668.1 1298h0M671.2 1296.6h0M674.3 1297.1h0M677.4 1297.3h0M680.5 1296.2h0M683.6 1296.5h0M686.7 1294.2h0M689.8 1296h0M692.8 1294.3h0M695.9 1294.9h0M699 1294.2h0M702.1 1291.6h0M705.2 1292.7h0M708.3 1293.1h0M711.4 1293.9h0M714.5 1292.5h0M717.6 1292.2h0M720.7 1290.5h0M723.8 1292.4h0M726.9 1292.4h0M730 1290.6h0M733.1 1290.1h0M736.2 1288.7h0M739.3 1290.3h0M742.4 1291.5h0M745.5 1289.6h0M748.6 1289.7h0M751.7 1288.8h0M754.8 1287.3h0M757.8 1288.8h0M760.9 1286.4h0M764 1287h0M767.1 1287h0M770.2 1287.2h0M773.3 1286.6h0M776.4 1286.2h0M779.5 1285h0M782.6 1284.3h0M785.7 1285.1h0M788.8 1284.3h0M791.9 1283.5h0M795 1283.3h0M798.1 1283.7h0M801.2 1282.3h0M804.3 1282.5h0M807.4 1282h0M810.5 1283.2h0M813.6 1283.1h0M816.7 1284.1h0M819.7 1281.1h0M822.8 1281.4h0M825.9 1282.4h0M829 1281.3h0M832.1 1280.9h0M835.2 1282.2h0M838.3 1280.3h0M841.4 1279.4h0M844.5 1278.9h0M847.6 1280h0M850.7 1279.6h0M853.8 1278h0M856.9 1278h0M860 1278.9h0M863.1 1278.6h0M866.2 1277.3h0M869.3 1278h0M872.4 1277.7h0M875.5 1275.5h0M878.6 1276.3h0M881.7 1276.6h0M884.7 1275.5h0M887.8 1273.9h0M890.9 1275h0M894 1275.5h0M897.1 1275.9h0M900.2 1272.5h0M903.3 1276h0M906.4 1272.7h0M909.5 1274h0M912.6 1273.9h0M915.7 1273.3h0M918.8 1272.3h0M921.9 1270.9h0M925 1272h0M928.1 1270.5h0M931.2 1268.7h0M934.3 1272.6h0M937.4 1270.6h0M940.5 1271.1h0M943.6 1268.5h0M946.7 1270.1h0M949.7 1269.8h0M952.8 1269.4h0M955.9 1267.7h0M959 1266.3h0M962.1 1266.8h0M965.2 1264.7h0M968.3 1264.7h0M971.4 1265.8h0M974.5 1264.5h0M977.6 1264.7h0M980.7 1264.4h0M983.8 1265.6h0M986.9 1264.7h0M990 1263.3h0M993.1 1263.9h0M996.2 1261.9h0M999.3 1261.9h0M1002.4 1262.6h0M1005.5 1260.5h0M1008.6 1260.9h0M1011.6 1259.8h0M1014.7 1260.6h0M1017.8 1261.5h0M1020.9 1259.3h0M1024 1259.8h0M1027.1 1258.6h0M1030.2 1258h0M1033.3 1257.7h0M1036.4 1259.5h0M1039.5 1259.9h0M1042.6 1258.1h0M1045.7 1256.9h0M1048.8 1257.7h0M1051.9 1256.5h0M1055 1257.1h0M1058.1 1256.4h0M1061.2 1256h0M1064.3 1255.9h0M1067.4 1254.6h0M1070.5 1254.4h0M1073.6 1252.9h0M1076.6 1253.5h0M1079.7 1252.3h0M1082.8 1252.9h0M1085.9 1251.8h0M1089 1252.2h0M1092.1 1252h0M1095.2 1250.1h0M1098.3 1250.1h0M1101.4 1249.5h0M1104.5 1250.4h0M1107.6 1250.6h0M1110.7 1249.5h0M1113.8 1248h0M1116.9 1249h0M1120 1246.2h0M1123.1 1248.1h0M1126.2 1245.9h0M1129.3 1243.8h0M1132.4 1247.7h0M1135.5 1246.5h0M1138.6 1244h0M1141.6 1244.5h0M1144.7 1243.8h0M1147.8 1243.7h0M1150.9 1242h0M1154 1242.3h0M1157.1 1242.8h0M1160.2 1242.2h0M1163.3 1242.6h0M1166.4 1241.4h0M1169.5 1242.8h0M1172.6 1240h0M1175.7 1240.4h0M1178.8 1238.3h0M1181.9 1238.5h0M1185 1240.2h0M1188.1 1238.1h0M1191.2 1238.9h0M1194.3 1238.2h0M1197.4 1237.1h0M1200.5 1237.3h0M1203.5 1236.9h0M1206.6 1236.7h0M1209.7 1237.4h0M1212.8 1237.1h0M1215.9 1235.9h0M1219 1235.4h0M1222.1 1236.1h0M1225.2 1235.6h0M1228.3 1236.3h0M1231.4 1237.4h0M1234.5 1235.8h0M1237.6 1234.9h0M1240.7 1234.6h0M1243.8 1233.8h0M1246.9 1233.6h0M1250 1233.4h0M1253.1 1233.7h0M1256.2 1233.5h0M1259.3 1234.2h0M1262.4 1233.1h0M1265.5 1233.1h0M1268.5 1232.1h0M1271.6 1234.2h0M1274.7 1233h0M1277.8 1233.9h0M1280.9 1232.9h0M1284 1233.2h0M1287.1 1231.6h0M1290.2 1232.2h0M1293.3 1233.7h0M1296.4 1230.4h0M1299.5 1232.2h0M1302.6 1232.5h0M1305.7 1231.5h0M1308.8 1231.7h0M1311.9 1232.1h0M1315 1230.6h0M1318.1 1231.5h0M1321.2 1230.6h0M1324.3 1230.8h0M1327.4 1231h0M1330.5 1231.5h0M1333.5 1231.9h0M1336.6 1232.3h0M1339.7 1230.9h0M1342.8 1233.8h0M1345.9 1233.3h0M1349 1233h0M1352.1 1232.3h0M1355.2 1232.6h0M1358.3 1233.2h0M1361.4 1233.1h0M1364.5 1231.5h0M1367.6 1233.5h0M1370.7 1235.3h0M1373.8 1231.4h0M1376.9 1233.8h0M1380 1233.3h0M1383.1 1232.9h0M1386.2 1234.2h0M1389.3 1232.1h0M1392.4 1233.2h0M1395.4 1234.3h0M1398.5 1233h0M1401.6 1232.9h0M1404.7 1233.4h0M1407.8 1233h0M1410.9 1234.8h0M1414 1232.9h0M1417.1 1234.5h0M1420.2 1232.9h0M1423.3 1234.6h0M1426.4 1234.1h0M1429.5 1232.3h0M1432.6 1234.6h0M1435.7 1233.8h0M1438.8 1234.5h0M1441.9 1236.3h0M1445 1234.3h0M1448.1 1234.6h0M1451.2 1236.8h0M1454.3 1236h0M1457.4 1237.4h0M1460.4 1236.6h0M1463.5 1235.8h0M1466.6 1236.8h0M1469.7 1238.1h0M1472.8 1238.1h0M1475.9 1237.5h0M1479 1237.8h0M1482.1 1237.8h0M1485.2 1237.7h0M1488.3 1239.9h0M1491.4 1238.5h0M1494.5 1237.7h0M1497.6 1238.3h0M1500.7 1239.4h0M1503.8 1239.5h0M1506.9 1238.9h0M1510 1238.6h0M1513.1 1239.3h0M1516.2 1238h0M1519.3 1238.4h0M1522.4 1240.2h0M1525.4 1239.2h0M1528.5 1240h0M1531.6 1240.8h0M1534.7 1240.4h0M1537.8 1239.9h0M1540.9 1241.7h0M1544 1240.5h0M1547.1 1239.7h0M1550.2 1240.6h0M1553.3 1240.3h0M1556.4 1239.3h0M1559.5 1240.1h0M1562.6 1239.9h0M1565.7 1238.4h0M1568.8 1239.9h0M1571.9 1239.8h0M1575 1239.6h0M1578.1 1238.6h0M1581.2 1239.7h0M1584.3 1240h0M1587.3 1240.2h0M1590.4 1239.2h0M1593.5 1240.8h0M1596.6 1239.4h0M1599.7 1240.3h0M1602.8 1241.9h0M1605.9 1240.8h0M1609 1241.8h0M1612.1 1243.9h0M1615.2 1243.7h0M1618.3 1245.1h0M1621.4 1247h0M1624.5 1249.2h0M1627.6 1248.1h0M1630.7 1250.7h0M1633.8 1251.9h0M1636.9 1253.2h0M1640 1254.7h0M1643.1 1256h0M1646.2 1258.2h0M1649.3 1258.5h0M1652.3 1260.7h0M1655.4 1262.2h0M1658.5 1262.7h0M1661.6 1264.8h0M1664.7 1267.5h0M1667.8 1268h0M1670.9 1268.7h0M1674 1270.7h0M1677.1 1271.5h0M1680.2 1274h0M1683.3 1275.9h0M1686.4 1276h0M1689.5 1277.8h0M1692.6 1280.3h0M1695.7 1280.3h0M1698.8 1282.1h0M1701.9 1282.5h0M1705 1283.9h0M1708.1 1285.4h0M1711.2 1288.9h0M1714.3 1288.1h0M1717.3 1289.3h0M1720.4 1290.6h0M1723.5 1292.3h0M1726.6 1294.2h0M1729.7 1295.1h0M1732.8 1297.8h0M1735.9 1297.5h0M1739 1299.5h0M1742.1 1299.6h0M1745.2 1300.8h0M1748.3 1300.1h0M1751.4 1302.1h0M1754.5 1303h0M1757.6 1303.6h0M1760.7 1302.9h0M1763.8 1306h0M1766.9 1305.5h0M1770 1306.1h0M1773.1 1306.8h0M1776.2 1307.3h0M1779.2 1308.4h0M1782.3 1307.5h0M1785.4 1308.3h0M1788.5 1309.7h0M1791.6 1310h0M1794.7 1310h0M1797.8 1310.3h0M1800.9 1310.4h0M1804 1311.4h0M1807.1 1312.8h0M1810.2 1311.3h0M1813.3 1313.7h0M1816.4 1313.5h0M1819.5 1312.8h0M1822.6 1314.1h0M1825.7 1312.5h0M1828.8 1312.6h0M1831.9 1313.2h0M1835 1314.2h0M1838.1 1314.5h0M1841.2 1314.6h0M1844.2 1315.3h0M1847.3 1313.7h0M1850.4 1316h0M1853.5 1314.7h0M1856.6 1315.5h0M1859.7 1315.9h0M1862.8 1315.5h0M1865.9 1315.6h0M1869 1316.1h0M1872.1 1317.1h0M1875.2 1317.7h0M1878.3 1317.9h0M1881.4 1316.9h0M1884.5 1317.3h0M1887.6 1317.4h0M1890.7 1318.7h0M1893.8 1316.9h0M1896.9 1319.7h0M1900 1318.5h0M1903.1 1318.5h0M1906.2 1319.6h0M1909.2 1320.3h0M1912.3 1320h0M1915.4 1320.7h0M1918.5 1320.2h0M1921.6 1321.2h0M1924.7 1321.4h0M1927.8 1320.5h0M1930.9 1321.9h0M1934 1321h0M1937.1 1321.1h0M1940.2 1320.4h0M1943.3 1321h0M1946.4 1322h0M1949.5 1320.4h0M1952.6 1322.1h0M1955.7 1321.9h0M1958.8 1321.9h0M1961.9 1320.1h0M1965 1321.8h0M1968.1 1322.5h0M1971.1 1321.5h0M1974.2 1322.2h0M1977.3 1320.3h0M1980.4 1322.8h0M1983.5 1321.8h0M1986.6 1323.1h0M1989.7 1321h0M1992.8 1323h0M1995.9 1322.3h0M1999 1323.1h0M2002.1 1321.8h0M2005.2 1322h0M2008.3 1324.3h0M2011.4 1321.8h0M2014.5 1321.9h0M2017.6 1322.3h0M2020.7 1321.7h0M2023.8 1323.5h0M2026.9 1323.9h0M2030 1321.9h0M2033.1 1321.1h0M2036.1 1323.4h0M2039.2 1323.4h0M2042.3 1323.2h0M2045.4 1323.4h0M2048.5 1321.8h0M2051.6 1322.4h0M2054.7 1321.4h0M2057.8 1321.4h0M2060.9 1323.3h0M2064 1322h0M2067.1 1324.3h0M2070.2 1322.6h0M2073.3 1322h0M2076.4 1323.1h0M2079.5 1323.9h0M2082.6 1322.9h0M2085.7 1321.5h0M2088.8 1322.8h0M2091.9 1323.6h0M2095 1322.1h0M2098.1 1321.9h0M2101.1 1323.3h0M2104.2 1322.6h0M2107.3 1321.6h0M2110.4 1322.2h0M2113.5 1321.9h0M2116.6 1322.7h0M2119.7 1322.6h0M2122.8 1323.4h0M2125.9 1323.1h0M2129 1321.2h0M2132.1 1322.8h0M2135.2 1323.2h0M2138.3 1322.9h0M2141.4 1323.3h0M2144.5 1322.1h0M2147.6 1321.7h0M2150.7 1323.2h0M2153.8 1321.6h0M2156.9 1320.8h0M2160 1323.3h0M2163 1321.9h0M2166.1 1322.3h0M2169.2 1321.4h0M2172.3 1321.4h0M2175.4 1321.6h0M2178.5 1322.2h0M2181.6 1322.8h0M2184.7 1320.7h0M2187.8 1323.1h0M2190.9 1321.6h0M2194 1321.6h0" stroke="#92D050" stroke-width="24" stroke-linecap="round" fill="none"/>
<polyline points="340.3,190.4 402,331.6 494,402.8 525.9,615.5 557.4,826.7 587.8,1028.2 619.7,1154.1 649.4,1325.6 960.5,1324.7 1454.5,1309.1 1578.4,1295.5 1703.5,615 1889,331.2 1950.8,190.1 2012.5,190.1 2198,190.1" fill="none" stroke="#FFC000" stroke-width="9" stroke-linejoin="round"/>
<path d="M340.3 190.4h0M402 331.6h0M494 402.8h0M525.9 615.5h0M557.4 826.7h0M587.8 1028.2h0M619.7 1154.1h0M649.4 1325.6h0M960.5 1324.7h0M1454.5 1309.1h0M1578.4 1295.5h0M1703.5 615h0M1889 331.2h0M1950.8 190.1h0M2012.5 190.1h0M2198 190.1h0" stroke="#FFC000" stroke-width="36" stroke-linecap="round" fill="none"/>
<polyline points="340.5,1143 403,1051.7 492.9,1005.3 525,957.6 558.3,913 588.5,820.6 621.5,729 648.6,229.1 960.6,229.2 1454.7,239.6 1578.3,274.5 1705,458.3 1889.5,1049.4 1952,1132.6 2013,1132.6 2198,1143.3" fill="none" stroke="#000" stroke-width="9.5" stroke-dasharray="18.5 20.4" stroke-dashoffset="-9" stroke-linecap="round" stroke-linejoin="round"/>
<path d="M340.5 1143h0M403 1051.7h0M492.9 1005.3h0M525 957.6h0M558.3 913h0M588.5 820.6h0M621.5 729h0M648.6 229.1h0M960.6 229.2h0M1454.7 239.6h0M1578.3 274.5h0M1705 458.3h0M1889.5 1049.4h0M1952 1132.6h0M2013 1132.6h0M2198 1143.3h0" stroke="#000" stroke-width="16" stroke-linecap="round" fill="none"/>
<line x1="345" y1="1631.2" x2="518.5" y2="1631.2" stroke="#0068C0" stroke-width="9.5" stroke-linecap="round"/>
<circle cx="428.3" cy="1631.2" r="12.3" fill="#5B9BD5"/>
<line x1="682.5" y1="1631.2" x2="852.4" y2="1631.2" stroke="#FF0000" stroke-width="9.5" stroke-linecap="round"/>
<circle cx="766" cy="1631.2" r="8.3" fill="#FF0000" stroke="#ED7D31" stroke-width="6.6"/>
<line x1="1020.7" y1="1631.2" x2="1192.3" y2="1631.2" stroke="#92D050" stroke-width="9.5" stroke-linecap="round"/>
<circle cx="1107.5" cy="1631.2" r="11.5" fill="#92D050"/>
<line x1="1394.9" y1="1631.2" x2="1563.1" y2="1631.2" stroke="#FFC000" stroke-width="9.5" stroke-linecap="round"/>
<circle cx="1477.3" cy="1631.2" r="18.8" fill="#FFC000"/>
<line x1="1731.7" y1="1631.2" x2="1900.8" y2="1631.2" stroke="#000" stroke-width="9.5" stroke-dasharray="18.5 20.5" stroke-linecap="round"/>
<circle cx="1815.5" cy="1631.2" r="7.5" fill="#000"/>
<text x="535.7" y="1653.3" font-size="62.5" fill="#000" font-weight="bold" textLength="42.7" lengthAdjust="spacingAndGlyphs">H</text>
<text x="580" y="1668.7" font-size="40.1" fill="#000" font-weight="bold" textLength="22.7" lengthAdjust="spacingAndGlyphs">2</text>
<text x="869.4" y="1653.3" font-size="62.6" fill="#000" font-weight="bold" textLength="80" lengthAdjust="spacingAndGlyphs">CO</text>
<text x="1211.7" y="1653.3" font-size="62.6" fill="#000" font-weight="bold" textLength="81" lengthAdjust="spacingAndGlyphs">CO</text>
<text x="1293.7" y="1668.6" font-size="39.9" fill="#000" font-weight="bold" textLength="22.7" lengthAdjust="spacingAndGlyphs">2</text>
<text x="1581.5" y="1653.3" font-size="62.6" fill="#000" font-weight="bold" textLength="45.4" lengthAdjust="spacingAndGlyphs">O</text>
<text x="1627.5" y="1668.7" font-size="40.1" fill="#000" font-weight="bold" textLength="23" lengthAdjust="spacingAndGlyphs">2</text>
<text x="1919" y="1654.3" font-size="65.5" fill="#000" font-weight="bold" textLength="252" lengthAdjust="spacingAndGlyphs">T reactor</text>
</svg></body></html>
